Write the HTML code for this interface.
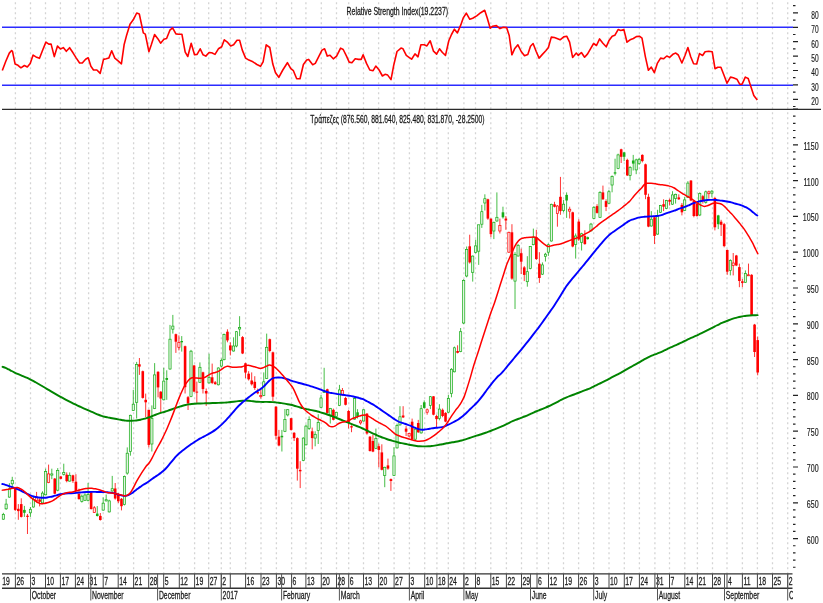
<!DOCTYPE html>
<html><head><meta charset="utf-8"><title>Chart</title>
<style>html,body{margin:0;padding:0;background:#fff;overflow:hidden}svg{display:block}</style>
</head><body>
<svg width="823" height="603" viewBox="0 0 823 603">
<defs><clipPath id="cl"><rect x="0" y="0" width="793" height="603"/></clipPath></defs>
<rect width="823" height="603" fill="#fff"/>
<path d="M15.4 0V573 M30.5 0V573 M45.5 0V573 M60.4 0V573 M75.4 0V573 M88.6 0V573 M103.2 0V573 M118.2 0V573 M133.6 0V573 M148.7 0V573 M163.7 0V573 M179.3 0V573 M194.6 0V573 M208.7 0V573 M221.3 0V573 M230.3 0V573 M245.6 0V573 M261 0V573 M276.4 0V573 M291.6 0V573 M305.9 0V573 M321.3 0V573 M336.5 0V573 M348.7 0V573 M363.5 0V573 M378.6 0V573 M394.1 0V573 M409.4 0V573 M424.7 0V573 M436.9 0V573 M448.3 0V573 M463.9 0V573 M475.5 0V573 M490.8 0V573 M506.4 0V573 M521.5 0V573 M537 0V573 M548.5 0V573 M563.5 0V573 M578.6 0V573 M593.7 0V573 M609 0V573 M624.3 0V573 M639.4 0V573 M654.9 0V573 M669.5 0V573 M684.8 0V573 M697.4 0V573 M712.5 0V573 M727 0V573 M742.4 0V573 M757.4 0V573 M772.5 0V573 M787.7 0V573" stroke="#d4d4d4" stroke-width="1.3" stroke-dasharray="2 3" stroke-dashoffset="-2.2" fill="none"/>
<path d="M2 27.2H793M2 85.2H793" stroke="#2b2bff" stroke-width="1.4" fill="none"/>
<polyline points="2.3,70.5 5.8,61.2 9.3,53.1 11.6,50.5 12.5,51.3 15.1,64.1 18,65.3 20.9,67.8 24.4,65.5 27.3,67 30.2,63.5 33.1,55.1 36,56.9 39.5,58.3 42.4,50.8 45.9,42.1 48.8,44.1 51.1,44.1 54.3,56.6 57.5,46.1 60.4,49 63.3,47.6 66.3,51.3 69.6,47.7 73,52.8 76.3,58.1 79.6,63 82.3,63 85.6,59.2 88.2,57.8 90.9,66.3 93.5,70 96.9,70 100.2,73.4 103.5,59.4 106.2,58.8 108.8,58.1 111.7,50.8 114.8,58.1 118.1,60.8 121.4,63.8 124.1,44.8 126.7,34.9 130,24.2 133.4,19.6 136.7,13 139.3,14 143.3,32.9 145.3,34.2 148.9,51.7 151.3,44.8 154.6,34.5 158,38.9 160.6,43.2 163.9,39.2 166.6,38.5 169.9,30.2 172.6,27.8 175.9,33.9 178.5,34.2 181.9,34.2 185.2,52.1 187.8,56.5 191.2,43.2 194.5,54.8 197.1,54.4 200.2,48.8 203.1,54.8 205.8,56.1 209.1,52.5 211.7,52.8 215,54.4 218.4,48.8 221.7,46.8 224.3,39.8 227.7,42.4 230.7,45.9 233.6,44.8 237,40.2 239.6,40.2 242.3,50.1 245.6,58.1 248.9,60.1 252.9,61.8 256.9,64.5 260.5,66.3 263.1,61.8 266.2,44.8 269.8,47.5 272.8,64.1 275.5,72.7 278.8,77.3 282.8,70 287.4,62.7 290.8,68.7 293.4,70.7 296.7,78.7 300,78.7 303.4,64.5 306.7,60.1 308.7,59.4 312.7,64.7 315.3,63.4 318.6,56.8 322,50.1 324.6,48.8 327.3,56.1 330,55.2 333.3,58.8 336.6,56.1 340.6,48.1 343.2,49.5 346.5,56.1 349.2,62.1 351.9,62.7 355.2,58.8 358.5,59.4 361.2,59.4 363.1,54.8 366.5,63.4 369.8,70 373.1,70.7 375.8,66.1 379.1,70 382.4,76 385,74.3 387.7,75.1 391,79.6 393.7,65.4 397,51.5 401,48.1 403,48.8 406.3,55.4 408.3,56.8 411.6,59.2 415,53.9 418,56.8 420.9,44.8 424.2,44.8 426.9,45.9 430.2,40.8 433.5,51.2 436.6,54.1 439.5,48.8 442.4,52.5 445.5,55.4 448.8,40.8 451.5,34.5 454.4,29.2 457.4,32.9 460.8,24.9 463.4,17.6 466.3,13.2 469.8,19.3 472.7,18.3 476.7,15.9 480.7,12.7 484.7,10.3 487.3,18.3 490.2,28.2 492.7,26.2 496.4,25.6 500,28.6 503.3,27.3 506.6,27.6 509.2,35.5 511.9,54.8 514.6,48.8 517.9,44.8 521.2,51.5 524.5,55.7 527.8,54.4 530.5,46.2 533.1,43.5 536.2,51.5 539.1,58.1 542.4,54.4 545.8,50.8 548.4,47.5 551.3,37.1 554.4,37.5 557,38.5 560.1,39.8 563.7,36.9 566.7,36.2 569.6,42.2 572.6,57.4 576.3,53.1 578.3,55.4 581.4,52.5 584.6,57.2 587.6,53.9 590.9,48.1 593.6,43.5 596.5,45.5 599.6,38.9 602.9,43.2 606.2,46.8 609.2,40.2 612.2,36.2 614.8,35.3 618.1,29.6 620.8,30.5 623.9,29.6 627,42.2 630.1,39.8 633.4,38.5 636.3,36.6 639.4,36.2 642,38.2 645.4,56.8 648.4,70.3 651.3,67.1 654.3,72.7 657.3,63.4 660.6,58.1 663.5,58.8 666.8,56 669.6,57.4 673.4,53.9 675.8,53.1 678.3,55 681.9,63 685.1,55.3 687.9,47.5 690.7,56.7 693.6,63.7 696.7,64 699.5,53.6 702.6,55.5 705.1,51.7 708.7,51.3 712.2,51.7 715,68.7 717.8,67.2 720.9,67.2 724.2,75.7 727,83.2 730.5,77.1 733.3,77.8 736.9,79.2 739.7,84.2 742.1,84.2 745.3,77.1 748.2,78.5 751,87 753.8,95.5 757.3,100.1" stroke="#ff0000" stroke-width="1.6" fill="none" stroke-linejoin="round"/>
<path d="M2 109.3H821" stroke="#2a2a2a" stroke-width="1.3" fill="none"/>
<path d="M15.22 487.3V511.1 M18.34 504.1V519.8 M21.25 498.3V517.5 M27.48 514V534 M36.57 491.9V502.4 M39.64 498.3V506.4 M48.58 464.6V483.2 M54.76 478V494.2 M60.79 475.9V479.4 M66.72 472.4V482.3 M72.95 474.7V482.9 M75.91 474.2V492.1 M78.98 488.7V499.7 M91.13 491.6V509.6 M94.3 506.1V513 M100.33 513V520.6 M115.2 483V499.6 M118.31 493V503 M121.48 498V510.4 M139.42 358V374.9 M142.78 370.6V398.6 M145.7 393.6V417.2 M148.81 409.8V447.4 M158.05 371.2V397.3 M160.77 391.1V412.2 M175.89 333.6V352.9 M178.91 335.4V350.4 M185.08 345.6V393.5 M188.05 396V410 M194.08 364.9V392.2 M196.84 381.6V402.8 M202.97 371.7V393.5 M206.19 388.5V405.9 M212.17 363.6V384.1 M215.18 381V384.8 M227.44 329.3V342.3 M230.35 342.3V355.4 M242.56 336.1V354.1 M245.47 362.8V378.2 M248.64 371.2V380.5 M251.7 372.4V385.5 M254.77 376.2V389.9 M257.73 388.6V394.2 M260.85 388.6V398.6 M269.79 338.6V352.3 M272.91 351.6V401 M275.97 406V439.6 M278.93 429.9V446.3 M291.14 417.9V430.6 M294.11 432.1V441 M297.32 437.3V480.6 M300.19 461.2V488.1 M312.19 427.6V449.3 M327.32 388.7V413.5 M333.4 408.6V420.4 M342.44 388V395.5 M345.55 396.7V405.4 M348.57 409.8V428.5 M351.53 425.3V432.2 M360.58 419.8V424.7 M366.96 413V434.7 M369.97 436V451.6 M372.93 434.8V452.2 M378.81 443.7V467.3 M381.83 444.3V470.4 M387.96 458.6V469.8 M390.92 478.5V490.9 M403.13 406.2V418 M406.09 426.1V436 M409.11 432.9V437.3 M412.12 418.6V439.8 M418.25 419.9V432.9 M427.15 408.5V414.7 M433.48 396.1V415.3 M436.54 414.7V427.8 M442.57 408.5V417.2 M445.53 412.2V422.2 M457.59 345.3V353.4 M469.7 234.7V263.6 M487.89 198.7V219.8 M490.9 218.6V237.2 M499.89 218.6V233.5 M505.87 216.1V229.8 M508.89 231.7V252.8 M511.95 224.2V279.8 M521.2 248.7V274 M524.26 266.1V281.1 M536.32 229.8V260 M539.38 252.2V282.9 M554.51 201.8V207.4 M557.42 205V226.7 M560.44 176.9V214.8 M569.68 206.7V218.5 M572.69 211.7V247.3 M578.77 219.2V240.9 M584.85 230.3V244.7 M597.06 204.2V213.6 M602.94 185.6V199.9 M606.05 199.3V211.1 M621.18 148.7V163 M627.3 158.7V176 M642.33 154.3V162.4 M645.54 163.6V199.2 M648.46 193.7V227.2 M654.54 216.7V244 M663.58 199.3V211.1 M669.61 198.6V205.5 M678.8 194.3V199.9 M681.92 203V215.4 M690.96 180V201.1 M693.87 199.9V217.3 M696.94 203V216.7 M702.87 194.9V203.6 M708.85 190.6V198.7 M714.88 196.8V230.4 M721.11 219.8V236 M724.17 222.9V247.3 M727.23 249.5V274.8 M733.21 253V275.4 M736.33 254.9V266.1 M739.39 263.6V287.2 M742.36 279V287.2 M748.49 263.6V276 M751.6 274.2V316 M754.57 323.9V357 M757.68 336.5V375.3" stroke="#ff0000" stroke-width="0.8" fill="none"/>
<path d="M3.36 512.8V519.8 M6.13 498.9V509.9 M9.39 483.2V497.7 M12.26 476.8V487.9 M24.41 505.9V516.9 M30.44 507V516.9 M33.46 497.1V507.6 M42.5 491.3V504.1 M45.62 468.7V495.4 M51.8 468.7V479.2 M57.72 468.1V491.3 M63.75 463.7V475.5 M69.68 472.4V481.7 M81.84 494.5V502.6 M84.96 493.3V500.9 M88.07 482.9V501.4 M97.26 506.1V516.5 M103.19 497.4V510.7 M106.16 494.5V501.4 M109.22 499.7V512.5 M112.24 475.9V491.6 M124.49 475.6V505.4 M127.26 447.4V474.7 M130.42 414.7V455.7 M133.29 389.9V411 M136.65 361.9V418.5 M151.87 405.4V451.5 M154.64 363.1V409.1 M163.78 367.8V400.4 M166.75 370.3V399.8 M170.01 324.9V369.7 M172.83 314.9V333.6 M181.72 336.1V351.6 M191.01 349.9V397.2 M199.91 362.4V382.9 M209.05 353.7V383.5 M218.34 367.3V385.4 M221.41 358.6V367.3 M224.02 333.6V360.3 M233.57 337.3V351.6 M236.48 331.1V347.3 M239.6 316.2V336.1 M263.76 372.4V396.1 M266.68 333.6V379 M281.9 429.9V451.5 M284.91 409V432.1 M287.73 409V416.4 M303.35 437.3V461.2 M305.97 424.6V445.5 M309.13 416.4V429.9 M315.16 431.3V446.3 M318.22 414.2V444 M321.04 394.9V407.9 M324.15 367.8V393 M330.28 407.9V423.5 M336.31 411.7V417.3 M339.48 384.9V406.1 M354.6 398V419.8 M357.56 409.2V418.5 M363.64 409.2V421.6 M375.9 428.6V449.1 M384.74 466.7V487.2 M393.99 447.2V476 M397.05 423.6V448.5 M399.97 406.2V425.5 M415.24 428V439.8 M421.17 405V433.6 M424.23 400.4V408.5 M430.41 396.1V409.1 M439.4 404.2V420.3 M448.4 394.8V412.9 M451.46 368.1V397.3 M454.43 346.6V372.4 M460.61 328V352.2 M463.67 279.2V324.2 M466.64 246.5V277.3 M472.71 255.5V281.6 M475.68 239.7V253.4 M478.69 224.8V264.9 M481.81 204.9V227.9 M484.87 194.3V210.5 M493.87 221.7V239.1 M496.88 192.4V221.7 M502.96 206.7V218.6 M515.02 252.2V309 M518.08 244.1V256.5 M527.33 256.2V286.7 M530.29 246V269.3 M533.35 228.6V245.3 M542.45 262.4V274.9 M545.46 252.8V261.5 M548.38 243.5V255.9 M551.39 203.7V241.6 M563.55 199.9V212.3 M566.61 192.4V217.9 M575.66 233.5V258.6 M581.59 232.8V250.5 M587.72 236.6V239.7 M590.98 222.9V231.6 M593.9 206.1V219.2 M600.02 191.2V217.9 M608.92 189.9V204.2 M612.08 175.4V192.3 M615.05 158.7V175.4 M618.11 153.7V169.2 M624.14 151.8V161.1 M630.07 166.1V180.4 M633.23 154.9V170.5 M636.2 158.7V174.2 M639.11 158V164.9 M651.32 211.1V226.6 M657.55 209.8V234.7 M660.51 204.9V212.9 M666.54 199.9V209.2 M672.52 191.2V204.9 M675.59 193.7V203.6 M684.68 196.8V211.1 M687.9 181.2V198 M699.75 192.4V216.1 M705.78 190.6V203.6 M711.91 190V197.4 M718.24 214.8V229.1 M730.35 259.3V275.4 M745.42 270.4V282.9" stroke="#16ac16" stroke-width="0.8" fill="none"/>
<rect x="2.26" y="514.5" width="2.2" height="4.7" fill="#e2f4e2" stroke="#16ac16" stroke-width="0.7"/>
<rect x="5.03" y="504.1" width="2.2" height="4.7" fill="#e2f4e2" stroke="#16ac16" stroke-width="0.7"/>
<rect x="8.29" y="489" width="2.2" height="8.1" fill="#e2f4e2" stroke="#16ac16" stroke-width="0.7"/>
<rect x="11.16" y="480.3" width="2.2" height="3.5" fill="#e2f4e2" stroke="#16ac16" stroke-width="0.7"/>
<rect x="13.92" y="487.9" width="2.6" height="22" fill="#ff0000"/>
<rect x="17.04" y="508.8" width="2.6" height="2.3" fill="#ff0000"/>
<rect x="19.95" y="504.1" width="2.6" height="12.8" fill="#ff0000"/>
<rect x="23.11" y="509.9" width="2.6" height="2.9" fill="#16ac16"/>
<rect x="26.18" y="515.7" width="2.6" height="1.2" fill="#ff0000"/>
<rect x="29.34" y="509.3" width="2.2" height="3.5" fill="#e2f4e2" stroke="#16ac16" stroke-width="0.7"/>
<rect x="32.36" y="499.5" width="2.2" height="7.5" fill="#e2f4e2" stroke="#16ac16" stroke-width="0.7"/>
<rect x="35.47" y="497.1" width="2.2" height="3.5" fill="#ffe2e2" stroke="#ff0000" stroke-width="0.7"/>
<rect x="38.34" y="499.5" width="2.6" height="2.3" fill="#ff0000"/>
<rect x="41.4" y="493.1" width="2.2" height="9.8" fill="#e2f4e2" stroke="#16ac16" stroke-width="0.7"/>
<rect x="44.52" y="471.6" width="2.2" height="23.2" fill="#e2f4e2" stroke="#16ac16" stroke-width="0.7"/>
<rect x="47.48" y="473.9" width="2.2" height="8.7" fill="#ffe2e2" stroke="#ff0000" stroke-width="0.7"/>
<rect x="50.7" y="473.9" width="2.2" height="1.2" fill="#e2f4e2" stroke="#16ac16" stroke-width="0.7"/>
<rect x="53.46" y="478.6" width="2.6" height="15.1" fill="#ff0000"/>
<rect x="56.62" y="470.4" width="2.2" height="19.8" fill="#e2f4e2" stroke="#16ac16" stroke-width="0.7"/>
<rect x="59.49" y="476.5" width="2.6" height="2.3" fill="#ff0000"/>
<rect x="62.65" y="472.5" width="2.2" height="2" fill="#e2f4e2" stroke="#16ac16" stroke-width="0.7"/>
<rect x="65.42" y="474.7" width="2.6" height="6.4" fill="#ff0000"/>
<rect x="68.58" y="475.3" width="2.2" height="5.8" fill="#e2f4e2" stroke="#16ac16" stroke-width="0.7"/>
<rect x="71.65" y="475.3" width="2.6" height="5.8" fill="#ff0000"/>
<rect x="74.61" y="481.7" width="2.6" height="9.3" fill="#ff0000"/>
<rect x="77.68" y="493.9" width="2.6" height="5.2" fill="#ff0000"/>
<rect x="80.74" y="496.2" width="2.2" height="5.2" fill="#e2f4e2" stroke="#16ac16" stroke-width="0.7"/>
<rect x="83.86" y="495" width="2.2" height="5.3" fill="#e2f4e2" stroke="#16ac16" stroke-width="0.7"/>
<rect x="86.97" y="494.5" width="2.2" height="5.8" fill="#e2f4e2" stroke="#16ac16" stroke-width="0.7"/>
<rect x="89.83" y="492.1" width="2.6" height="16.9" fill="#ff0000"/>
<rect x="93.2" y="507.8" width="2.2" height="4.7" fill="#ffe2e2" stroke="#ff0000" stroke-width="0.7"/>
<rect x="95.96" y="513.6" width="2.6" height="2.4" fill="#16ac16"/>
<rect x="99.03" y="515.9" width="2.6" height="4.1" fill="#ff0000"/>
<rect x="102.09" y="503.2" width="2.2" height="6.9" fill="#e2f4e2" stroke="#16ac16" stroke-width="0.7"/>
<rect x="105.06" y="499.7" width="2.2" height="1.2" fill="#e2f4e2" stroke="#16ac16" stroke-width="0.7"/>
<rect x="108.12" y="500.9" width="2.2" height="11" fill="#e2f4e2" stroke="#16ac16" stroke-width="0.7"/>
<rect x="111.14" y="488.7" width="2.2" height="2.3" fill="#e2f4e2" stroke="#16ac16" stroke-width="0.7"/>
<rect x="113.9" y="488.5" width="2.6" height="10" fill="#ff0000"/>
<rect x="117.01" y="494.6" width="2.6" height="6.7" fill="#ff0000"/>
<rect x="120.18" y="498.8" width="2.6" height="7.4" fill="#ff0000"/>
<rect x="123.39" y="476.4" width="2.2" height="28.2" fill="#e2f4e2" stroke="#16ac16" stroke-width="0.7"/>
<rect x="126.16" y="453.2" width="2.2" height="19.9" fill="#e2f4e2" stroke="#16ac16" stroke-width="0.7"/>
<rect x="129.32" y="415.3" width="2.2" height="36.2" fill="#e2f4e2" stroke="#16ac16" stroke-width="0.7"/>
<rect x="132.19" y="404.2" width="2.2" height="6.2" fill="#e2f4e2" stroke="#16ac16" stroke-width="0.7"/>
<rect x="135.55" y="364.4" width="2.2" height="37.9" fill="#e2f4e2" stroke="#16ac16" stroke-width="0.7"/>
<rect x="138.12" y="364.3" width="2.6" height="2.3" fill="#ff0000"/>
<rect x="141.48" y="371.2" width="2.6" height="26.7" fill="#ff0000"/>
<rect x="144.4" y="399.8" width="2.6" height="2.5" fill="#ff0000"/>
<rect x="147.51" y="409.8" width="2.6" height="35.1" fill="#ff0000"/>
<rect x="150.77" y="418.5" width="2.2" height="25.5" fill="#e2f4e2" stroke="#16ac16" stroke-width="0.7"/>
<rect x="153.54" y="374.9" width="2.2" height="33.6" fill="#e2f4e2" stroke="#16ac16" stroke-width="0.7"/>
<rect x="156.75" y="371.8" width="2.6" height="15.6" fill="#ff0000"/>
<rect x="159.47" y="391.7" width="2.6" height="6.9" fill="#ff0000"/>
<rect x="162.68" y="381.1" width="2.2" height="18.7" fill="#e2f4e2" stroke="#16ac16" stroke-width="0.7"/>
<rect x="165.45" y="378" width="2.6" height="1.9" fill="#16ac16"/>
<rect x="168.91" y="339.2" width="2.2" height="29.8" fill="#e2f4e2" stroke="#16ac16" stroke-width="0.7"/>
<rect x="171.73" y="326.1" width="2.2" height="3.1" fill="#e2f4e2" stroke="#16ac16" stroke-width="0.7"/>
<rect x="174.59" y="334.2" width="2.6" height="7.5" fill="#ff0000"/>
<rect x="177.81" y="342.3" width="2.2" height="5" fill="#ffe2e2" stroke="#ff0000" stroke-width="0.7"/>
<rect x="180.42" y="341" width="2.6" height="1.3" fill="#16ac16"/>
<rect x="183.78" y="346.2" width="2.6" height="41" fill="#ff0000"/>
<rect x="186.75" y="397.2" width="2.6" height="6.2" fill="#ff0000"/>
<rect x="189.91" y="351.2" width="2.2" height="45.4" fill="#e2f4e2" stroke="#16ac16" stroke-width="0.7"/>
<rect x="192.78" y="365.5" width="2.6" height="26.1" fill="#ff0000"/>
<rect x="195.54" y="391.6" width="2.6" height="1" fill="#ff0000"/>
<rect x="198.81" y="367.3" width="2.2" height="15" fill="#e2f4e2" stroke="#16ac16" stroke-width="0.7"/>
<rect x="201.67" y="372.3" width="2.6" height="16.8" fill="#ff0000"/>
<rect x="204.89" y="391" width="2.6" height="2.5" fill="#ff0000"/>
<rect x="207.95" y="377.3" width="2.2" height="5.6" fill="#e2f4e2" stroke="#16ac16" stroke-width="0.7"/>
<rect x="210.87" y="377.3" width="2.6" height="5.6" fill="#ff0000"/>
<rect x="213.88" y="382.3" width="2.6" height="1.8" fill="#ff0000"/>
<rect x="217.24" y="368" width="2.2" height="16.8" fill="#e2f4e2" stroke="#16ac16" stroke-width="0.7"/>
<rect x="220.31" y="360.5" width="2.2" height="5.6" fill="#e2f4e2" stroke="#16ac16" stroke-width="0.7"/>
<rect x="222.92" y="334.6" width="2.2" height="25.1" fill="#e2f4e2" stroke="#16ac16" stroke-width="0.7"/>
<rect x="226.14" y="331.7" width="2.6" height="8.7" fill="#ff0000"/>
<rect x="229.05" y="345.4" width="2.6" height="5" fill="#ff0000"/>
<rect x="232.47" y="346" width="2.2" height="5" fill="#e2f4e2" stroke="#16ac16" stroke-width="0.7"/>
<rect x="235.38" y="331.7" width="2.2" height="14.3" fill="#e2f4e2" stroke="#16ac16" stroke-width="0.7"/>
<rect x="238.5" y="327.5" width="2.2" height="1.5" fill="#e2f4e2" stroke="#16ac16" stroke-width="0.7"/>
<rect x="241.26" y="337.1" width="2.6" height="16.4" fill="#ff0000"/>
<rect x="244.17" y="363.3" width="2.6" height="9.3" fill="#ff0000"/>
<rect x="247.34" y="373.7" width="2.6" height="5.6" fill="#ff0000"/>
<rect x="250.4" y="380.5" width="2.6" height="3.8" fill="#ff0000"/>
<rect x="253.47" y="381.8" width="2.6" height="6.2" fill="#ff0000"/>
<rect x="256.43" y="392.1" width="2.6" height="1.2" fill="#ff0000"/>
<rect x="259.75" y="395.4" width="2.2" height="1.3" fill="#ffe2e2" stroke="#ff0000" stroke-width="0.7"/>
<rect x="262.66" y="381.8" width="2.2" height="13.6" fill="#e2f4e2" stroke="#16ac16" stroke-width="0.7"/>
<rect x="265.58" y="347.3" width="2.2" height="31.1" fill="#e2f4e2" stroke="#16ac16" stroke-width="0.7"/>
<rect x="268.49" y="339.2" width="2.6" height="11.8" fill="#ff0000"/>
<rect x="271.61" y="352.3" width="2.6" height="44.4" fill="#ff0000"/>
<rect x="274.67" y="406.7" width="2.6" height="29.1" fill="#ff0000"/>
<rect x="277.63" y="436.6" width="2.6" height="8.9" fill="#ff0000"/>
<rect x="280.6" y="435.8" width="2.6" height="1.5" fill="#16ac16"/>
<rect x="283.81" y="419.4" width="2.2" height="11.9" fill="#e2f4e2" stroke="#16ac16" stroke-width="0.7"/>
<rect x="286.63" y="409.7" width="2.2" height="5.2" fill="#e2f4e2" stroke="#16ac16" stroke-width="0.7"/>
<rect x="289.84" y="418.2" width="2.6" height="11.7" fill="#ff0000"/>
<rect x="292.81" y="432.8" width="2.6" height="5.3" fill="#ff0000"/>
<rect x="296.02" y="438.1" width="2.6" height="30.6" fill="#ff0000"/>
<rect x="298.89" y="469.9" width="2.6" height="1.4" fill="#ff0000"/>
<rect x="302.25" y="438.1" width="2.2" height="22.3" fill="#e2f4e2" stroke="#16ac16" stroke-width="0.7"/>
<rect x="304.87" y="426.1" width="2.2" height="18.7" fill="#e2f4e2" stroke="#16ac16" stroke-width="0.7"/>
<rect x="308.03" y="419.4" width="2.2" height="9" fill="#e2f4e2" stroke="#16ac16" stroke-width="0.7"/>
<rect x="310.89" y="431.3" width="2.6" height="6.8" fill="#ff0000"/>
<rect x="314.06" y="434.3" width="2.2" height="3.8" fill="#e2f4e2" stroke="#16ac16" stroke-width="0.7"/>
<rect x="317.12" y="422.4" width="2.2" height="8.2" fill="#e2f4e2" stroke="#16ac16" stroke-width="0.7"/>
<rect x="319.94" y="398" width="2.2" height="9.3" fill="#e2f4e2" stroke="#16ac16" stroke-width="0.7"/>
<rect x="323.05" y="391.1" width="2.2" height="1.3" fill="#e2f4e2" stroke="#16ac16" stroke-width="0.7"/>
<rect x="326.02" y="389.3" width="2.6" height="23.6" fill="#ff0000"/>
<rect x="329.18" y="408.6" width="2.2" height="6.8" fill="#e2f4e2" stroke="#16ac16" stroke-width="0.7"/>
<rect x="332.1" y="409.8" width="2.6" height="10" fill="#ff0000"/>
<rect x="335.21" y="412.3" width="2.2" height="4.3" fill="#e2f4e2" stroke="#16ac16" stroke-width="0.7"/>
<rect x="338.38" y="389.9" width="2.2" height="15.5" fill="#e2f4e2" stroke="#16ac16" stroke-width="0.7"/>
<rect x="341.34" y="390.5" width="2.2" height="4.4" fill="#ffe2e2" stroke="#ff0000" stroke-width="0.7"/>
<rect x="344.25" y="398" width="2.6" height="6.8" fill="#ff0000"/>
<rect x="347.27" y="411" width="2.6" height="11.2" fill="#ff0000"/>
<rect x="350.23" y="426.2" width="2.6" height="1.3" fill="#ff0000"/>
<rect x="353.5" y="398.6" width="2.2" height="20.5" fill="#e2f4e2" stroke="#16ac16" stroke-width="0.7"/>
<rect x="356.26" y="412.3" width="2.6" height="4.3" fill="#16ac16"/>
<rect x="359.48" y="421" width="2.2" height="1.9" fill="#ffe2e2" stroke="#ff0000" stroke-width="0.7"/>
<rect x="362.54" y="409.8" width="2.2" height="11.2" fill="#e2f4e2" stroke="#16ac16" stroke-width="0.7"/>
<rect x="365.66" y="413.7" width="2.6" height="19.8" fill="#ff0000"/>
<rect x="368.67" y="436.7" width="2.6" height="14.3" fill="#ff0000"/>
<rect x="371.63" y="441" width="2.6" height="10.6" fill="#ff0000"/>
<rect x="374.8" y="438.5" width="2.2" height="10" fill="#e2f4e2" stroke="#16ac16" stroke-width="0.7"/>
<rect x="377.51" y="446.2" width="2.6" height="3.7" fill="#ff0000"/>
<rect x="380.53" y="452.4" width="2.6" height="17.4" fill="#ff0000"/>
<rect x="383.64" y="467.3" width="2.2" height="8.1" fill="#e2f4e2" stroke="#16ac16" stroke-width="0.7"/>
<rect x="386.66" y="465.4" width="2.6" height="3.2" fill="#ff0000"/>
<rect x="389.62" y="479.1" width="2.6" height="1.9" fill="#ff0000"/>
<rect x="392.89" y="455.9" width="2.2" height="19.5" fill="#e2f4e2" stroke="#16ac16" stroke-width="0.7"/>
<rect x="395.95" y="425.5" width="2.2" height="22.4" fill="#e2f4e2" stroke="#16ac16" stroke-width="0.7"/>
<rect x="398.87" y="416.8" width="2.2" height="8.1" fill="#e2f4e2" stroke="#16ac16" stroke-width="0.7"/>
<rect x="401.83" y="415.5" width="2.6" height="1.9" fill="#ff0000"/>
<rect x="404.79" y="428.6" width="2.6" height="3.1" fill="#ff0000"/>
<rect x="408.01" y="433.6" width="2.2" height="2.4" fill="#ffe2e2" stroke="#ff0000" stroke-width="0.7"/>
<rect x="410.82" y="421.7" width="2.6" height="17.5" fill="#ff0000"/>
<rect x="414.14" y="429.2" width="2.2" height="10" fill="#e2f4e2" stroke="#16ac16" stroke-width="0.7"/>
<rect x="416.95" y="423" width="2.6" height="9.3" fill="#ff0000"/>
<rect x="420.07" y="408.7" width="2.2" height="24.2" fill="#e2f4e2" stroke="#16ac16" stroke-width="0.7"/>
<rect x="422.93" y="402.3" width="2.6" height="5.6" fill="#16ac16"/>
<rect x="426.05" y="409.8" width="2.2" height="2.4" fill="#ffe2e2" stroke="#ff0000" stroke-width="0.7"/>
<rect x="429.31" y="396.7" width="2.2" height="8.7" fill="#e2f4e2" stroke="#16ac16" stroke-width="0.7"/>
<rect x="432.18" y="396.3" width="2.6" height="18.4" fill="#ff0000"/>
<rect x="435.24" y="416" width="2.6" height="3.1" fill="#ff0000"/>
<rect x="438.3" y="409.1" width="2.2" height="9.4" fill="#e2f4e2" stroke="#16ac16" stroke-width="0.7"/>
<rect x="441.27" y="409.8" width="2.6" height="6.2" fill="#ff0000"/>
<rect x="444.23" y="412.9" width="2.6" height="8.7" fill="#ff0000"/>
<rect x="447.3" y="398.6" width="2.2" height="13.6" fill="#e2f4e2" stroke="#16ac16" stroke-width="0.7"/>
<rect x="450.36" y="369.3" width="2.2" height="24.3" fill="#e2f4e2" stroke="#16ac16" stroke-width="0.7"/>
<rect x="453.33" y="347.8" width="2.2" height="24" fill="#e2f4e2" stroke="#16ac16" stroke-width="0.7"/>
<rect x="456.29" y="351" width="2.6" height="1.8" fill="#ff0000"/>
<rect x="459.51" y="331.7" width="2.2" height="19.9" fill="#e2f4e2" stroke="#16ac16" stroke-width="0.7"/>
<rect x="462.57" y="280.4" width="2.2" height="42.6" fill="#e2f4e2" stroke="#16ac16" stroke-width="0.7"/>
<rect x="465.54" y="249.5" width="2.2" height="26.5" fill="#e2f4e2" stroke="#16ac16" stroke-width="0.7"/>
<rect x="468.4" y="246.3" width="2.6" height="16.1" fill="#ff0000"/>
<rect x="471.61" y="256.1" width="2.2" height="16.2" fill="#e2f4e2" stroke="#16ac16" stroke-width="0.7"/>
<rect x="474.58" y="245.9" width="2.2" height="6.4" fill="#e2f4e2" stroke="#16ac16" stroke-width="0.7"/>
<rect x="477.59" y="224.8" width="2.2" height="26.4" fill="#e2f4e2" stroke="#16ac16" stroke-width="0.7"/>
<rect x="480.71" y="211.7" width="2.2" height="12.5" fill="#e2f4e2" stroke="#16ac16" stroke-width="0.7"/>
<rect x="483.77" y="198.7" width="2.2" height="4.3" fill="#e2f4e2" stroke="#16ac16" stroke-width="0.7"/>
<rect x="486.59" y="199.3" width="2.6" height="19.3" fill="#ff0000"/>
<rect x="489.6" y="218.6" width="2.6" height="15.5" fill="#ff0000"/>
<rect x="492.77" y="222.3" width="2.2" height="8.7" fill="#e2f4e2" stroke="#16ac16" stroke-width="0.7"/>
<rect x="495.78" y="217.3" width="2.2" height="3.7" fill="#e2f4e2" stroke="#16ac16" stroke-width="0.7"/>
<rect x="498.79" y="225.4" width="2.2" height="5.6" fill="#ffe2e2" stroke="#ff0000" stroke-width="0.7"/>
<rect x="501.66" y="212.3" width="2.6" height="5" fill="#16ac16"/>
<rect x="504.57" y="218.6" width="2.6" height="1.9" fill="#ff0000"/>
<rect x="507.79" y="232.3" width="2.2" height="19.9" fill="#ffe2e2" stroke="#ff0000" stroke-width="0.7"/>
<rect x="510.65" y="232.3" width="2.6" height="46.3" fill="#ff0000"/>
<rect x="513.92" y="254.5" width="2.2" height="26.6" fill="#e2f4e2" stroke="#16ac16" stroke-width="0.7"/>
<rect x="516.98" y="245.3" width="2.2" height="10.7" fill="#e2f4e2" stroke="#16ac16" stroke-width="0.7"/>
<rect x="519.9" y="253.2" width="2.6" height="8.5" fill="#ff0000"/>
<rect x="522.96" y="267.4" width="2.6" height="7.5" fill="#ff0000"/>
<rect x="526.23" y="271.7" width="2.2" height="10" fill="#e2f4e2" stroke="#16ac16" stroke-width="0.7"/>
<rect x="529.19" y="246.4" width="2.2" height="22.2" fill="#e2f4e2" stroke="#16ac16" stroke-width="0.7"/>
<rect x="532.25" y="237.3" width="2.2" height="7.4" fill="#e2f4e2" stroke="#16ac16" stroke-width="0.7"/>
<rect x="535.02" y="237.3" width="2.6" height="21.7" fill="#ff0000"/>
<rect x="538.08" y="263.7" width="2.6" height="14.3" fill="#ff0000"/>
<rect x="541.35" y="264.9" width="2.2" height="9.3" fill="#e2f4e2" stroke="#16ac16" stroke-width="0.7"/>
<rect x="544.36" y="254.2" width="2.2" height="2.1" fill="#e2f4e2" stroke="#16ac16" stroke-width="0.7"/>
<rect x="547.28" y="244.7" width="2.2" height="7.5" fill="#e2f4e2" stroke="#16ac16" stroke-width="0.7"/>
<rect x="550.29" y="204.3" width="2.2" height="36.7" fill="#e2f4e2" stroke="#16ac16" stroke-width="0.7"/>
<rect x="553.21" y="204.3" width="2.6" height="2.5" fill="#ff0000"/>
<rect x="556.32" y="206" width="2.2" height="7.6" fill="#ffe2e2" stroke="#ff0000" stroke-width="0.7"/>
<rect x="559.14" y="196.8" width="2.6" height="14.3" fill="#ff0000"/>
<rect x="562.45" y="204.2" width="2.2" height="6.2" fill="#e2f4e2" stroke="#16ac16" stroke-width="0.7"/>
<rect x="565.31" y="194.9" width="2.6" height="5.6" fill="#16ac16"/>
<rect x="568.58" y="209.2" width="2.2" height="1.9" fill="#ffe2e2" stroke="#ff0000" stroke-width="0.7"/>
<rect x="571.39" y="212.3" width="2.6" height="34.2" fill="#ff0000"/>
<rect x="574.56" y="236" width="2.2" height="8.5" fill="#e2f4e2" stroke="#16ac16" stroke-width="0.7"/>
<rect x="577.47" y="221.6" width="2.6" height="17.9" fill="#ff0000"/>
<rect x="580.49" y="233.8" width="2.2" height="8.5" fill="#e2f4e2" stroke="#16ac16" stroke-width="0.7"/>
<rect x="583.55" y="235.9" width="2.6" height="8.2" fill="#ff0000"/>
<rect x="586.42" y="237.2" width="2.6" height="1.9" fill="#16ac16"/>
<rect x="589.88" y="224.1" width="2.2" height="6.7" fill="#e2f4e2" stroke="#16ac16" stroke-width="0.7"/>
<rect x="592.8" y="207.3" width="2.2" height="11.2" fill="#e2f4e2" stroke="#16ac16" stroke-width="0.7"/>
<rect x="595.76" y="206.1" width="2.6" height="6.8" fill="#ff0000"/>
<rect x="598.92" y="192.4" width="2.2" height="24.9" fill="#e2f4e2" stroke="#16ac16" stroke-width="0.7"/>
<rect x="601.64" y="192.4" width="2.6" height="6.9" fill="#ff0000"/>
<rect x="604.75" y="201.1" width="2.6" height="5.8" fill="#ff0000"/>
<rect x="607.82" y="191.7" width="2.2" height="11.5" fill="#e2f4e2" stroke="#16ac16" stroke-width="0.7"/>
<rect x="610.98" y="176.5" width="2.2" height="8.5" fill="#e2f4e2" stroke="#16ac16" stroke-width="0.7"/>
<rect x="613.75" y="172.3" width="2.6" height="1.3" fill="#16ac16"/>
<rect x="617.01" y="154.9" width="2.2" height="13.7" fill="#e2f4e2" stroke="#16ac16" stroke-width="0.7"/>
<rect x="619.88" y="149.3" width="2.6" height="7.5" fill="#ff0000"/>
<rect x="622.84" y="152.4" width="2.6" height="4.4" fill="#16ac16"/>
<rect x="626" y="159.9" width="2.6" height="15.5" fill="#ff0000"/>
<rect x="628.97" y="167.4" width="2.2" height="8" fill="#e2f4e2" stroke="#16ac16" stroke-width="0.7"/>
<rect x="631.93" y="160.5" width="2.6" height="3.1" fill="#16ac16"/>
<rect x="635.1" y="159.9" width="2.2" height="10" fill="#e2f4e2" stroke="#16ac16" stroke-width="0.7"/>
<rect x="638.01" y="159.3" width="2.2" height="4.3" fill="#e2f4e2" stroke="#16ac16" stroke-width="0.7"/>
<rect x="641.03" y="154.9" width="2.6" height="6.2" fill="#ff0000"/>
<rect x="644.24" y="164.3" width="2.6" height="30.5" fill="#ff0000"/>
<rect x="647.16" y="196.8" width="2.6" height="29.8" fill="#ff0000"/>
<rect x="650.22" y="219.2" width="2.2" height="6.8" fill="#e2f4e2" stroke="#16ac16" stroke-width="0.7"/>
<rect x="653.24" y="217.3" width="2.6" height="18.6" fill="#ff0000"/>
<rect x="656.45" y="215.4" width="2.2" height="18.7" fill="#e2f4e2" stroke="#16ac16" stroke-width="0.7"/>
<rect x="659.41" y="205.5" width="2.2" height="6.8" fill="#e2f4e2" stroke="#16ac16" stroke-width="0.7"/>
<rect x="662.28" y="204.2" width="2.6" height="2.5" fill="#ff0000"/>
<rect x="665.44" y="200.5" width="2.2" height="8.1" fill="#e2f4e2" stroke="#16ac16" stroke-width="0.7"/>
<rect x="668.31" y="199.9" width="2.6" height="1.8" fill="#ff0000"/>
<rect x="671.42" y="194.9" width="2.2" height="9.3" fill="#e2f4e2" stroke="#16ac16" stroke-width="0.7"/>
<rect x="674.49" y="194.3" width="2.2" height="4.3" fill="#e2f4e2" stroke="#16ac16" stroke-width="0.7"/>
<rect x="677.5" y="197.4" width="2.6" height="1.9" fill="#ff0000"/>
<rect x="680.62" y="204.9" width="2.6" height="7.4" fill="#ff0000"/>
<rect x="683.58" y="199.9" width="2.2" height="10.5" fill="#e2f4e2" stroke="#16ac16" stroke-width="0.7"/>
<rect x="686.8" y="183.1" width="2.2" height="14.3" fill="#e2f4e2" stroke="#16ac16" stroke-width="0.7"/>
<rect x="689.66" y="180.6" width="2.6" height="19.9" fill="#ff0000"/>
<rect x="692.57" y="201.1" width="2.6" height="14.9" fill="#ff0000"/>
<rect x="695.64" y="203.6" width="2.6" height="12.4" fill="#ff0000"/>
<rect x="698.65" y="193.5" width="2.2" height="21.5" fill="#e2f4e2" stroke="#16ac16" stroke-width="0.7"/>
<rect x="701.57" y="196.2" width="2.6" height="3.7" fill="#ff0000"/>
<rect x="704.68" y="191.8" width="2.2" height="10.6" fill="#e2f4e2" stroke="#16ac16" stroke-width="0.7"/>
<rect x="707.75" y="191.8" width="2.2" height="1.9" fill="#ffe2e2" stroke="#ff0000" stroke-width="0.7"/>
<rect x="710.81" y="191.2" width="2.2" height="1.9" fill="#e2f4e2" stroke="#16ac16" stroke-width="0.7"/>
<rect x="713.58" y="198" width="2.6" height="29.3" fill="#ff0000"/>
<rect x="716.94" y="215.4" width="2.6" height="8.8" fill="#16ac16"/>
<rect x="719.81" y="221.7" width="2.6" height="3.1" fill="#ff0000"/>
<rect x="722.87" y="224.2" width="2.6" height="21.9" fill="#ff0000"/>
<rect x="725.93" y="250" width="2.6" height="21.7" fill="#ff0000"/>
<rect x="729.25" y="260.5" width="2.2" height="9.9" fill="#e2f4e2" stroke="#16ac16" stroke-width="0.7"/>
<rect x="732.11" y="263" width="2.2" height="2.5" fill="#ffe2e2" stroke="#ff0000" stroke-width="0.7"/>
<rect x="735.03" y="255.5" width="2.6" height="10" fill="#ff0000"/>
<rect x="738.09" y="267.1" width="2.6" height="13.9" fill="#ff0000"/>
<rect x="741.06" y="281.3" width="2.6" height="1.6" fill="#ff0000"/>
<rect x="744.32" y="273.6" width="2.2" height="8.7" fill="#e2f4e2" stroke="#16ac16" stroke-width="0.7"/>
<rect x="747.39" y="274.8" width="2.2" height="1" fill="#ffe2e2" stroke="#ff0000" stroke-width="0.7"/>
<rect x="750.3" y="274.8" width="2.6" height="40.6" fill="#ff0000"/>
<rect x="753.27" y="324.6" width="2.6" height="27.4" fill="#ff0000"/>
<rect x="756.38" y="340.1" width="2.6" height="32.4" fill="#ff0000"/>
<path d="M2.6 366.84C3.1 367.02 4.6 367.51 5.6 367.94C6.6 368.37 7.6 368.91 8.6 369.42C9.6 369.93 10.6 370.48 11.6 371C12.6 371.52 13.6 372.03 14.6 372.52C15.6 373 16.6 373.46 17.6 373.9C18.6 374.34 19.6 374.76 20.6 375.18C21.6 375.6 22.6 376 23.6 376.42C24.6 376.84 25.6 377.24 26.6 377.68C27.6 378.11 28.6 378.54 29.6 379.02C30.6 379.5 31.6 380.02 32.6 380.56C33.6 381.09 34.6 381.68 35.6 382.25C36.6 382.83 37.6 383.42 38.6 384.01C39.6 384.59 40.6 385.18 41.6 385.77C42.6 386.36 43.6 386.95 44.6 387.53C45.6 388.12 46.6 388.71 47.6 389.3C48.6 389.88 49.6 390.47 50.6 391.05C51.6 391.64 52.6 392.23 53.6 392.81C54.6 393.4 55.6 393.99 56.6 394.56C57.6 395.14 58.6 395.72 59.6 396.28C60.6 396.84 61.6 397.39 62.6 397.94C63.6 398.48 64.6 399.01 65.6 399.54C66.6 400.07 67.6 400.6 68.6 401.13C69.6 401.65 70.6 402.18 71.6 402.69C72.6 403.2 73.6 403.71 74.6 404.2C75.6 404.69 76.6 405.15 77.6 405.61C78.6 406.07 79.6 406.51 80.6 406.96C81.6 407.4 82.6 407.84 83.6 408.28C84.6 408.72 85.6 409.16 86.6 409.6C87.6 410.04 88.6 410.48 89.6 410.92C90.6 411.35 91.6 411.79 92.6 412.22C93.6 412.66 94.6 413.09 95.6 413.52C96.6 413.95 97.6 414.38 98.6 414.78C99.6 415.17 100.6 415.56 101.6 415.88C102.6 416.21 103.6 416.47 104.6 416.72C105.6 416.97 106.6 417.16 107.6 417.36C108.6 417.57 109.6 417.75 110.6 417.94C111.6 418.14 112.6 418.33 113.6 418.51C114.6 418.7 115.6 418.89 116.6 419.08C117.6 419.26 118.6 419.45 119.6 419.63C120.6 419.81 121.6 420 122.6 420.17C123.6 420.33 124.6 420.51 125.6 420.62C126.6 420.73 127.6 420.81 128.6 420.84C129.6 420.87 130.6 420.84 131.6 420.8C132.6 420.76 133.6 420.69 134.6 420.61C135.6 420.53 136.6 420.44 137.6 420.3C138.6 420.16 139.6 419.97 140.6 419.74C141.6 419.52 142.6 419.21 143.6 418.93C144.6 418.65 145.6 418.36 146.6 418.06C147.6 417.76 148.6 417.49 149.6 417.15C150.6 416.81 151.6 416.42 152.6 416.02C153.6 415.62 154.6 415.16 155.6 414.77C156.6 414.37 157.6 413.99 158.6 413.64C159.6 413.29 160.6 412.98 161.6 412.67C162.6 412.36 163.6 412.07 164.6 411.77C165.6 411.46 166.6 411.16 167.6 410.83C168.6 410.5 169.6 410.15 170.6 409.79C171.6 409.43 172.6 409.04 173.6 408.68C174.6 408.32 175.6 407.97 176.6 407.63C177.6 407.3 178.6 406.98 179.6 406.68C180.6 406.37 181.6 406.07 182.6 405.79C183.6 405.51 184.6 405.23 185.6 404.99C186.6 404.75 187.6 404.55 188.6 404.38C189.6 404.21 190.6 404.08 191.6 403.97C192.6 403.86 193.6 403.79 194.6 403.73C195.6 403.66 196.6 403.62 197.6 403.58C198.6 403.54 199.6 403.51 200.6 403.47C201.6 403.44 202.6 403.41 203.6 403.38C204.6 403.35 205.6 403.31 206.6 403.28C207.6 403.25 208.6 403.22 209.6 403.18C210.6 403.15 211.6 403.12 212.6 403.09C213.6 403.05 214.6 403.02 215.6 402.99C216.6 402.96 217.6 402.93 218.6 402.89C219.6 402.86 220.6 402.82 221.6 402.78C222.6 402.73 223.6 402.68 224.6 402.61C225.6 402.54 226.6 402.44 227.6 402.35C228.6 402.25 229.6 402.14 230.6 402.04C231.6 401.93 232.6 401.82 233.6 401.7C234.6 401.59 235.6 401.47 236.6 401.35C237.6 401.23 238.6 401.08 239.6 400.96C240.6 400.84 241.6 400.71 242.6 400.66C243.6 400.6 244.6 400.6 245.6 400.63C246.6 400.65 247.6 400.74 248.6 400.82C249.6 400.9 250.6 401.01 251.6 401.12C252.6 401.22 253.6 401.34 254.6 401.44C255.6 401.55 256.6 401.66 257.6 401.73C258.6 401.8 259.6 401.86 260.6 401.89C261.6 401.92 262.6 401.91 263.6 401.91C264.6 401.91 265.6 401.88 266.6 401.89C267.6 401.89 268.6 401.89 269.6 401.93C270.6 401.97 271.6 402.03 272.6 402.11C273.6 402.18 274.6 402.29 275.6 402.39C276.6 402.49 277.6 402.59 278.6 402.71C279.6 402.83 280.6 402.96 281.6 403.11C282.6 403.26 283.6 403.44 284.6 403.62C285.6 403.8 286.6 404 287.6 404.2C288.6 404.4 289.6 404.6 290.6 404.82C291.6 405.04 292.6 405.27 293.6 405.52C294.6 405.78 295.6 406.06 296.6 406.35C297.6 406.63 298.6 406.94 299.6 407.23C300.6 407.52 301.6 407.82 302.6 408.09C303.6 408.37 304.6 408.63 305.6 408.87C306.6 409.11 307.6 409.32 308.6 409.54C309.6 409.75 310.6 409.94 311.6 410.15C312.6 410.36 313.6 410.57 314.6 410.79C315.6 411.02 316.6 411.27 317.6 411.53C318.6 411.79 319.6 412.08 320.6 412.37C321.6 412.66 322.6 412.96 323.6 413.26C324.6 413.57 325.6 413.88 326.6 414.21C327.6 414.54 328.6 414.89 329.6 415.25C330.6 415.62 331.6 416.01 332.6 416.39C333.6 416.78 334.6 417.18 335.6 417.58C336.6 417.97 337.6 418.37 338.6 418.77C339.6 419.17 340.6 419.57 341.6 419.97C342.6 420.38 343.6 420.78 344.6 421.19C345.6 421.59 346.6 422 347.6 422.4C348.6 422.8 349.6 423.21 350.6 423.61C351.6 424.01 352.6 424.41 353.6 424.81C354.6 425.21 355.6 425.6 356.6 426C357.6 426.4 358.6 426.8 359.6 427.21C360.6 427.63 361.6 428.05 362.6 428.49C363.6 428.93 364.6 429.4 365.6 429.88C366.6 430.36 367.6 430.86 368.6 431.35C369.6 431.84 370.6 432.34 371.6 432.82C372.6 433.31 373.6 433.78 374.6 434.23C375.6 434.68 376.6 435.11 377.6 435.53C378.6 435.96 379.6 436.36 380.6 436.76C381.6 437.17 382.6 437.57 383.6 437.94C384.6 438.32 385.6 438.68 386.6 439.02C387.6 439.36 388.6 439.66 389.6 439.96C390.6 440.26 391.6 440.54 392.6 440.82C393.6 441.1 394.6 441.39 395.6 441.66C396.6 441.93 397.6 442.2 398.6 442.45C399.6 442.7 400.6 442.94 401.6 443.16C402.6 443.38 403.6 443.58 404.6 443.78C405.6 443.98 406.6 444.18 407.6 444.38C408.6 444.57 409.6 444.78 410.6 444.97C411.6 445.17 412.6 445.37 413.6 445.54C414.6 445.72 415.6 445.88 416.6 446C417.6 446.12 418.6 446.2 419.6 446.26C420.6 446.32 421.6 446.36 422.6 446.37C423.6 446.39 424.6 446.38 425.6 446.35C426.6 446.33 427.6 446.27 428.6 446.21C429.6 446.14 430.6 446.06 431.6 445.96C432.6 445.86 433.6 445.74 434.6 445.6C435.6 445.46 436.6 445.3 437.6 445.13C438.6 444.96 439.6 444.77 440.6 444.57C441.6 444.37 442.6 444.14 443.6 443.94C444.6 443.73 445.6 443.51 446.6 443.31C447.6 443.12 448.6 442.96 449.6 442.79C450.6 442.62 451.6 442.48 452.6 442.31C453.6 442.14 454.6 441.98 455.6 441.79C456.6 441.6 457.6 441.41 458.6 441.19C459.6 440.96 460.6 440.72 461.6 440.45C462.6 440.18 463.6 439.89 464.6 439.59C465.6 439.29 466.6 438.96 467.6 438.64C468.6 438.31 469.6 437.96 470.6 437.62C471.6 437.28 472.6 436.94 473.6 436.61C474.6 436.28 475.6 435.96 476.6 435.65C477.6 435.34 478.6 435.05 479.6 434.74C480.6 434.43 481.6 434.12 482.6 433.79C483.6 433.46 484.6 433.12 485.6 432.76C486.6 432.41 487.6 432.04 488.6 431.67C489.6 431.3 490.6 430.91 491.6 430.52C492.6 430.13 493.6 429.72 494.6 429.33C495.6 428.93 496.6 428.53 497.6 428.12C498.6 427.72 499.6 427.32 500.6 426.9C501.6 426.47 502.6 426.04 503.6 425.57C504.6 425.1 505.6 424.59 506.6 424.09C507.6 423.58 508.6 423.05 509.6 422.56C510.6 422.08 511.6 421.61 512.6 421.17C513.6 420.73 514.6 420.33 515.6 419.93C516.6 419.53 517.6 419.15 518.6 418.77C519.6 418.38 520.6 418.02 521.6 417.64C522.6 417.27 523.6 416.91 524.6 416.52C525.6 416.13 526.6 415.74 527.6 415.31C528.6 414.88 529.6 414.41 530.6 413.96C531.6 413.5 532.6 413.01 533.6 412.56C534.6 412.11 535.6 411.67 536.6 411.25C537.6 410.82 538.6 410.42 539.6 410.01C540.6 409.61 541.6 409.21 542.6 408.8C543.6 408.39 544.6 407.98 545.6 407.56C546.6 407.14 547.6 406.71 548.6 406.26C549.6 405.81 550.6 405.35 551.6 404.86C552.6 404.38 553.6 403.88 554.6 403.37C555.6 402.86 556.6 402.34 557.6 401.81C558.6 401.29 559.6 400.74 560.6 400.23C561.6 399.71 562.6 399.2 563.6 398.73C564.6 398.25 565.6 397.82 566.6 397.39C567.6 396.97 568.6 396.57 569.6 396.18C570.6 395.79 571.6 395.41 572.6 395.03C573.6 394.65 574.6 394.29 575.6 393.91C576.6 393.53 577.6 393.16 578.6 392.77C579.6 392.38 580.6 391.98 581.6 391.58C582.6 391.19 583.6 390.79 584.6 390.41C585.6 390.02 586.6 389.67 587.6 389.28C588.6 388.88 589.6 388.49 590.6 388.04C591.6 387.59 592.6 387.09 593.6 386.59C594.6 386.1 595.6 385.57 596.6 385.07C597.6 384.57 598.6 384.09 599.6 383.61C600.6 383.13 601.6 382.66 602.6 382.16C603.6 381.67 604.6 381.17 605.6 380.65C606.6 380.14 607.6 379.61 608.6 379.08C609.6 378.55 610.6 378.01 611.6 377.48C612.6 376.96 613.6 376.43 614.6 375.91C615.6 375.39 616.6 374.88 617.6 374.36C618.6 373.84 619.6 373.33 620.6 372.78C621.6 372.24 622.6 371.67 623.6 371.1C624.6 370.53 625.6 369.94 626.6 369.36C627.6 368.79 628.6 368.22 629.6 367.65C630.6 367.09 631.6 366.54 632.6 365.98C633.6 365.43 634.6 364.89 635.6 364.33C636.6 363.78 637.6 363.22 638.6 362.65C639.6 362.08 640.6 361.49 641.6 360.92C642.6 360.34 643.6 359.74 644.6 359.18C645.6 358.61 646.6 358.05 647.6 357.54C648.6 357.03 649.6 356.55 650.6 356.12C651.6 355.69 652.6 355.33 653.6 354.96C654.6 354.58 655.6 354.25 656.6 353.87C657.6 353.49 658.6 353.09 659.6 352.66C660.6 352.24 661.6 351.78 662.6 351.31C663.6 350.84 664.6 350.34 665.6 349.85C666.6 349.37 667.6 348.87 668.6 348.4C669.6 347.93 670.6 347.48 671.6 347.02C672.6 346.57 673.6 346.13 674.6 345.69C675.6 345.24 676.6 344.8 677.6 344.35C678.6 343.89 679.6 343.44 680.6 342.96C681.6 342.49 682.6 341.99 683.6 341.5C684.6 341.01 685.6 340.51 686.6 340.04C687.6 339.56 688.6 339.1 689.6 338.64C690.6 338.19 691.6 337.75 692.6 337.3C693.6 336.86 694.6 336.42 695.6 335.97C696.6 335.51 697.6 335.06 698.6 334.59C699.6 334.12 700.6 333.63 701.6 333.14C702.6 332.65 703.6 332.14 704.6 331.64C705.6 331.14 706.6 330.64 707.6 330.14C708.6 329.64 709.6 329.14 710.6 328.64C711.6 328.13 712.6 327.6 713.6 327.08C714.6 326.56 715.6 326.01 716.6 325.5C717.6 324.99 718.6 324.49 719.6 324.03C720.6 323.57 721.6 323.15 722.6 322.72C723.6 322.3 724.6 321.89 725.6 321.48C726.6 321.06 727.6 320.63 728.6 320.23C729.6 319.83 730.6 319.43 731.6 319.08C732.6 318.73 733.6 318.42 734.6 318.13C735.6 317.84 736.6 317.59 737.6 317.35C738.6 317.11 739.6 316.89 740.6 316.69C741.6 316.49 742.6 316.3 743.6 316.14C744.6 315.98 745.6 315.85 746.6 315.73C747.6 315.62 748.6 315.53 749.6 315.46C750.6 315.38 751.6 315.33 752.6 315.28C753.6 315.23 754.77 315.2 755.6 315.18C756.43 315.15 757.27 315.14 757.6 315.14" stroke="#008400" stroke-width="1.95" fill="none" stroke-linejoin="round" stroke-linecap="round"/>
<path d="M2.3 484.03C2.8 484.16 4.3 484.51 5.3 484.8C6.3 485.09 7.3 485.44 8.3 485.78C9.3 486.12 10.3 486.47 11.3 486.82C12.3 487.17 13.3 487.52 14.3 487.89C15.3 488.27 16.3 488.63 17.3 489.06C18.3 489.49 19.3 489.97 20.3 490.46C21.3 490.94 22.3 491.45 23.3 491.95C24.3 492.46 25.3 492.97 26.3 493.47C27.3 493.97 28.3 494.51 29.3 494.96C30.3 495.4 31.3 495.82 32.3 496.16C33.3 496.49 34.3 496.73 35.3 496.96C36.3 497.19 37.3 497.41 38.3 497.53C39.3 497.65 40.3 497.67 41.3 497.69C42.3 497.72 43.3 497.72 44.3 497.68C45.3 497.64 46.3 497.58 47.3 497.46C48.3 497.34 49.3 497.15 50.3 496.94C51.3 496.74 52.3 496.49 53.3 496.23C54.3 495.96 55.3 495.63 56.3 495.34C57.3 495.05 58.3 494.73 59.3 494.49C60.3 494.25 61.3 494.06 62.3 493.9C63.3 493.74 64.3 493.61 65.3 493.51C66.3 493.41 67.3 493.36 68.3 493.32C69.3 493.28 70.3 493.31 71.3 493.27C72.3 493.23 73.3 493.17 74.3 493.09C75.3 493.01 76.3 492.89 77.3 492.79C78.3 492.69 79.3 492.58 80.3 492.48C81.3 492.39 82.3 492.28 83.3 492.2C84.3 492.13 85.3 492.07 86.3 492.03C87.3 491.98 88.3 491.95 89.3 491.93C90.3 491.91 91.3 491.91 92.3 491.9C93.3 491.9 94.3 491.9 95.3 491.92C96.3 491.94 97.3 491.97 98.3 491.99C99.3 492.02 100.3 492.06 101.3 492.07C102.3 492.09 103.3 492.08 104.3 492.1C105.3 492.13 106.3 492.14 107.3 492.22C108.3 492.3 109.3 492.44 110.3 492.58C111.3 492.73 112.3 492.87 113.3 493.08C114.3 493.29 115.3 493.57 116.3 493.86C117.3 494.15 118.3 494.53 119.3 494.81C120.3 495.1 121.3 495.42 122.3 495.59C123.3 495.77 124.3 495.93 125.3 495.84C126.3 495.75 127.3 495.45 128.3 495.06C129.3 494.66 130.3 494.09 131.3 493.47C132.3 492.85 133.3 492.06 134.3 491.33C135.3 490.6 136.3 489.84 137.3 489.1C138.3 488.36 139.3 487.59 140.3 486.87C141.3 486.16 142.3 485.44 143.3 484.81C144.3 484.17 145.3 483.69 146.3 483.08C147.3 482.46 148.3 481.82 149.3 481.1C150.3 480.39 151.3 479.5 152.3 478.76C153.3 478.03 154.3 477.37 155.3 476.69C156.3 476.02 157.3 475.43 158.3 474.73C159.3 474.03 160.3 473.29 161.3 472.49C162.3 471.7 163.3 470.93 164.3 469.97C165.3 469.02 166.3 467.9 167.3 466.76C168.3 465.63 169.3 464.37 170.3 463.17C171.3 461.98 172.3 460.76 173.3 459.59C174.3 458.41 175.3 457.18 176.3 456.13C177.3 455.07 178.3 454.13 179.3 453.25C180.3 452.37 181.3 451.63 182.3 450.84C183.3 450.05 184.3 449.28 185.3 448.52C186.3 447.75 187.3 446.99 188.3 446.25C189.3 445.51 190.3 444.77 191.3 444.08C192.3 443.39 193.3 442.75 194.3 442.1C195.3 441.46 196.3 440.82 197.3 440.2C198.3 439.58 199.3 438.97 200.3 438.4C201.3 437.84 202.3 437.33 203.3 436.8C204.3 436.28 205.3 435.78 206.3 435.24C207.3 434.71 208.3 434.15 209.3 433.59C210.3 433.03 211.3 432.47 212.3 431.86C213.3 431.24 214.3 430.61 215.3 429.88C216.3 429.15 217.3 428.31 218.3 427.48C219.3 426.64 220.3 425.81 221.3 424.88C222.3 423.95 223.3 422.93 224.3 421.9C225.3 420.87 226.3 419.77 227.3 418.68C228.3 417.59 229.3 416.48 230.3 415.35C231.3 414.23 232.3 413.06 233.3 411.91C234.3 410.76 235.3 409.57 236.3 408.47C237.3 407.36 238.3 406.25 239.3 405.27C240.3 404.29 241.3 403.44 242.3 402.58C243.3 401.72 244.3 400.94 245.3 400.11C246.3 399.27 247.3 398.41 248.3 397.58C249.3 396.75 250.3 395.91 251.3 395.14C252.3 394.37 253.3 393.61 254.3 392.95C255.3 392.29 256.3 391.78 257.3 391.17C258.3 390.57 259.3 390.06 260.3 389.34C261.3 388.62 262.3 387.77 263.3 386.85C264.3 385.93 265.3 384.86 266.3 383.83C267.3 382.8 268.3 381.55 269.3 380.67C270.3 379.78 271.3 379.01 272.3 378.51C273.3 378 274.3 377.82 275.3 377.65C276.3 377.48 277.3 377.5 278.3 377.49C279.3 377.48 280.3 377.47 281.3 377.6C282.3 377.73 283.3 377.99 284.3 378.26C285.3 378.53 286.3 378.88 287.3 379.22C288.3 379.56 289.3 379.94 290.3 380.3C291.3 380.65 292.3 381.03 293.3 381.35C294.3 381.66 295.3 381.93 296.3 382.2C297.3 382.47 298.3 382.72 299.3 382.98C300.3 383.24 301.3 383.49 302.3 383.76C303.3 384.02 304.3 384.29 305.3 384.57C306.3 384.86 307.3 385.16 308.3 385.46C309.3 385.75 310.3 386.06 311.3 386.36C312.3 386.66 313.3 386.96 314.3 387.28C315.3 387.6 316.3 387.93 317.3 388.29C318.3 388.65 319.3 389.05 320.3 389.43C321.3 389.82 322.3 390.23 323.3 390.61C324.3 391 325.3 391.42 326.3 391.76C327.3 392.09 328.3 392.4 329.3 392.63C330.3 392.87 331.3 393.01 332.3 393.19C333.3 393.36 334.3 393.52 335.3 393.68C336.3 393.84 337.3 394.01 338.3 394.16C339.3 394.32 340.3 394.47 341.3 394.62C342.3 394.76 343.3 394.9 344.3 395.03C345.3 395.17 346.3 395.3 347.3 395.45C348.3 395.59 349.3 395.72 350.3 395.9C351.3 396.08 352.3 396.3 353.3 396.53C354.3 396.76 355.3 397.04 356.3 397.29C357.3 397.55 358.3 397.79 359.3 398.07C360.3 398.35 361.3 398.6 362.3 398.97C363.3 399.35 364.3 399.83 365.3 400.33C366.3 400.82 367.3 401.39 368.3 401.93C369.3 402.47 370.3 403.01 371.3 403.57C372.3 404.13 373.3 404.67 374.3 405.29C375.3 405.9 376.3 406.59 377.3 407.26C378.3 407.94 379.3 408.65 380.3 409.35C381.3 410.05 382.3 410.75 383.3 411.44C384.3 412.14 385.3 412.84 386.3 413.54C387.3 414.24 388.3 414.94 389.3 415.63C390.3 416.33 391.3 417.04 392.3 417.73C393.3 418.42 394.3 419.16 395.3 419.79C396.3 420.42 397.3 421.04 398.3 421.51C399.3 421.98 400.3 422.27 401.3 422.61C402.3 422.96 403.3 423.25 404.3 423.58C405.3 423.91 406.3 424.23 407.3 424.59C408.3 424.95 409.3 425.32 410.3 425.74C411.3 426.17 412.3 426.69 413.3 427.14C414.3 427.59 415.3 428.08 416.3 428.45C417.3 428.82 418.3 429.14 419.3 429.35C420.3 429.57 421.3 429.71 422.3 429.72C423.3 429.73 424.3 429.57 425.3 429.43C426.3 429.3 427.3 429.11 428.3 428.94C429.3 428.76 430.3 428.55 431.3 428.38C432.3 428.22 433.3 428.07 434.3 427.95C435.3 427.84 436.3 427.79 437.3 427.7C438.3 427.61 439.3 427.56 440.3 427.42C441.3 427.29 442.3 427.17 443.3 426.88C444.3 426.6 445.3 426.17 446.3 425.72C447.3 425.28 448.3 424.73 449.3 424.23C450.3 423.73 451.3 423.22 452.3 422.71C453.3 422.21 454.3 421.74 455.3 421.2C456.3 420.65 457.3 420.08 458.3 419.43C459.3 418.78 460.3 418.06 461.3 417.28C462.3 416.5 463.3 415.64 464.3 414.75C465.3 413.86 466.3 412.91 467.3 411.96C468.3 411.01 469.3 409.99 470.3 409.03C471.3 408.07 472.3 407.14 473.3 406.18C474.3 405.21 475.3 404.29 476.3 403.25C477.3 402.21 478.3 401.11 479.3 399.92C480.3 398.74 481.3 397.45 482.3 396.15C483.3 394.85 484.3 393.47 485.3 392.11C486.3 390.75 487.3 389.33 488.3 388.01C489.3 386.69 490.3 385.45 491.3 384.2C492.3 382.94 493.3 381.68 494.3 380.48C495.3 379.28 496.3 378.02 497.3 377C498.3 375.99 499.3 375.36 500.3 374.39C501.3 373.41 502.3 372.27 503.3 371.13C504.3 369.99 505.3 368.73 506.3 367.53C507.3 366.33 508.3 365.12 509.3 363.92C510.3 362.71 511.3 361.51 512.3 360.31C513.3 359.11 514.3 357.91 515.3 356.71C516.3 355.51 517.3 354.32 518.3 353.12C519.3 351.93 520.3 350.74 521.3 349.54C522.3 348.34 523.3 347.16 524.3 345.94C525.3 344.71 526.3 343.48 527.3 342.21C528.3 340.94 529.3 339.63 530.3 338.34C531.3 337.04 532.3 335.74 533.3 334.43C534.3 333.13 535.3 331.84 536.3 330.53C537.3 329.22 538.3 327.91 539.3 326.56C540.3 325.21 541.3 323.82 542.3 322.43C543.3 321.04 544.3 319.63 545.3 318.23C546.3 316.83 547.3 315.43 548.3 314.03C549.3 312.62 550.3 311.23 551.3 309.8C552.3 308.36 553.3 306.91 554.3 305.41C555.3 303.92 556.3 302.41 557.3 300.85C558.3 299.29 559.3 297.69 560.3 296.06C561.3 294.43 562.3 292.72 563.3 291.09C564.3 289.46 565.3 287.73 566.3 286.27C567.3 284.81 568.3 283.59 569.3 282.33C570.3 281.07 571.3 279.93 572.3 278.73C573.3 277.52 574.3 276.32 575.3 275.11C576.3 273.91 577.3 272.7 578.3 271.49C579.3 270.29 580.3 269.1 581.3 267.9C582.3 266.7 583.3 265.51 584.3 264.29C585.3 263.08 586.3 261.85 587.3 260.6C588.3 259.36 589.3 258.08 590.3 256.82C591.3 255.56 592.3 254.29 593.3 253.06C594.3 251.82 595.3 250.63 596.3 249.43C597.3 248.23 598.3 247.06 599.3 245.87C600.3 244.69 601.3 243.49 602.3 242.33C603.3 241.18 604.3 240.02 605.3 238.93C606.3 237.85 607.3 236.78 608.3 235.84C609.3 234.9 610.3 234.07 611.3 233.29C612.3 232.51 613.3 231.86 614.3 231.16C615.3 230.46 616.3 229.78 617.3 229.09C618.3 228.39 619.3 227.7 620.3 227C621.3 226.3 622.3 225.59 623.3 224.88C624.3 224.18 625.3 223.44 626.3 222.77C627.3 222.11 628.3 221.41 629.3 220.88C630.3 220.35 631.3 219.99 632.3 219.61C633.3 219.23 634.3 218.94 635.3 218.62C636.3 218.3 637.3 217.95 638.3 217.69C639.3 217.44 640.3 217.22 641.3 217.08C642.3 216.93 643.3 216.89 644.3 216.82C645.3 216.74 646.3 216.68 647.3 216.62C648.3 216.55 649.3 216.49 650.3 216.42C651.3 216.36 652.3 216.29 653.3 216.23C654.3 216.16 655.3 216.12 656.3 216.03C657.3 215.94 658.3 215.89 659.3 215.68C660.3 215.48 661.3 215.14 662.3 214.79C663.3 214.45 664.3 213.99 665.3 213.62C666.3 213.25 667.3 212.91 668.3 212.58C669.3 212.25 670.3 211.98 671.3 211.65C672.3 211.33 673.3 211 674.3 210.64C675.3 210.28 676.3 209.86 677.3 209.49C678.3 209.12 679.3 208.74 680.3 208.39C681.3 208.05 682.3 207.77 683.3 207.44C684.3 207.1 685.3 206.8 686.3 206.4C687.3 206.01 688.3 205.52 689.3 205.07C690.3 204.61 691.3 204.09 692.3 203.67C693.3 203.25 694.3 202.89 695.3 202.55C696.3 202.22 697.3 201.92 698.3 201.65C699.3 201.39 700.3 201.15 701.3 200.95C702.3 200.74 703.3 200.59 704.3 200.44C705.3 200.29 706.3 200.16 707.3 200.06C708.3 199.97 709.3 199.9 710.3 199.87C711.3 199.84 712.3 199.84 713.3 199.86C714.3 199.88 715.3 199.91 716.3 199.99C717.3 200.07 718.3 200.19 719.3 200.32C720.3 200.45 721.3 200.61 722.3 200.76C723.3 200.91 724.3 201.06 725.3 201.23C726.3 201.4 727.3 201.57 728.3 201.77C729.3 201.98 730.3 202.2 731.3 202.45C732.3 202.71 733.3 203.01 734.3 203.3C735.3 203.58 736.3 203.87 737.3 204.15C738.3 204.43 739.3 204.69 740.3 205C741.3 205.31 742.3 205.6 743.3 206.01C744.3 206.41 745.3 206.88 746.3 207.43C747.3 207.99 748.3 208.64 749.3 209.34C750.3 210.04 751.3 210.83 752.3 211.64C753.3 212.45 754.47 213.53 755.3 214.18C756.13 214.82 756.97 215.29 757.3 215.51" stroke="#0000ff" stroke-width="1.9" fill="none" stroke-linejoin="round" stroke-linecap="round"/>
<path d="M2.3 490.13C2.8 490.06 4.3 489.85 5.3 489.69C6.3 489.52 7.3 489.35 8.3 489.17C9.3 488.98 10.3 488.78 11.3 488.58C12.3 488.38 13.3 488.12 14.3 487.95C15.3 487.78 16.3 487.44 17.3 487.57C18.3 487.7 19.3 488.27 20.3 488.75C21.3 489.23 22.3 489.72 23.3 490.48C24.3 491.23 25.3 492.35 26.3 493.3C27.3 494.25 28.3 495.3 29.3 496.18C30.3 497.07 31.3 497.84 32.3 498.62C33.3 499.4 34.3 500.18 35.3 500.87C36.3 501.55 37.3 502.21 38.3 502.71C39.3 503.21 40.3 503.74 41.3 503.85C42.3 503.97 43.3 503.59 44.3 503.4C45.3 503.21 46.3 502.98 47.3 502.71C48.3 502.44 49.3 502.17 50.3 501.79C51.3 501.4 52.3 500.98 53.3 500.4C54.3 499.81 55.3 499.01 56.3 498.3C57.3 497.59 58.3 496.78 59.3 496.13C60.3 495.48 61.3 494.9 62.3 494.41C63.3 493.93 64.3 493.54 65.3 493.23C66.3 492.92 67.3 492.7 68.3 492.53C69.3 492.36 70.3 492.37 71.3 492.2C72.3 492.04 73.3 491.8 74.3 491.54C75.3 491.28 76.3 490.96 77.3 490.66C78.3 490.37 79.3 490.07 80.3 489.78C81.3 489.5 82.3 489.15 83.3 488.93C84.3 488.71 85.3 488.59 86.3 488.46C87.3 488.34 88.3 488.21 89.3 488.19C90.3 488.17 91.3 488.27 92.3 488.36C93.3 488.45 94.3 488.53 95.3 488.72C96.3 488.91 97.3 489.21 98.3 489.49C99.3 489.77 100.3 490.06 101.3 490.41C102.3 490.75 103.3 491.19 104.3 491.55C105.3 491.91 106.3 492.36 107.3 492.6C108.3 492.83 109.3 492.84 110.3 492.94C111.3 493.03 112.3 493.05 113.3 493.17C114.3 493.29 115.3 493.44 116.3 493.64C117.3 493.85 118.3 494.15 119.3 494.41C120.3 494.67 121.3 494.94 122.3 495.19C123.3 495.44 124.3 496.01 125.3 495.9C126.3 495.8 127.3 495.34 128.3 494.58C129.3 493.81 130.3 492.78 131.3 491.32C132.3 489.87 133.3 487.71 134.3 485.85C135.3 483.98 136.3 481.91 137.3 480.12C138.3 478.33 139.3 476.72 140.3 475.1C141.3 473.48 142.3 471.91 143.3 470.4C144.3 468.9 145.3 467.34 146.3 466.06C147.3 464.79 148.3 464.14 149.3 462.73C150.3 461.32 151.3 459.45 152.3 457.6C153.3 455.74 154.3 453.55 155.3 451.62C156.3 449.69 157.3 447.85 158.3 446.01C159.3 444.16 160.3 442.49 161.3 440.56C162.3 438.64 163.3 436.57 164.3 434.46C165.3 432.36 166.3 430.21 167.3 427.93C168.3 425.65 169.3 423.28 170.3 420.81C171.3 418.34 172.3 415.74 173.3 413.12C174.3 410.51 175.3 407.73 176.3 405.1C177.3 402.48 178.3 399.8 179.3 397.36C180.3 394.92 181.3 392.56 182.3 390.45C183.3 388.34 184.3 386.38 185.3 384.71C186.3 383.03 187.3 381.54 188.3 380.42C189.3 379.3 190.3 378.4 191.3 377.98C192.3 377.56 193.3 377.87 194.3 377.89C195.3 377.9 196.3 378.04 197.3 378.09C198.3 378.15 199.3 378.25 200.3 378.21C201.3 378.18 202.3 378.16 203.3 377.88C204.3 377.6 205.3 377.09 206.3 376.55C207.3 376 208.3 375.14 209.3 374.6C210.3 374.05 211.3 373.63 212.3 373.27C213.3 372.91 214.3 372.75 215.3 372.44C216.3 372.13 217.3 371.86 218.3 371.39C219.3 370.92 220.3 370.3 221.3 369.64C222.3 368.98 223.3 368.02 224.3 367.44C225.3 366.87 226.3 366.31 227.3 366.2C228.3 366.09 229.3 366.58 230.3 366.76C231.3 366.95 232.3 367.23 233.3 367.3C234.3 367.37 235.3 367.22 236.3 367.17C237.3 367.11 238.3 367.04 239.3 366.96C240.3 366.88 241.3 366.92 242.3 366.7C243.3 366.48 244.3 365.88 245.3 365.64C246.3 365.39 247.3 365.21 248.3 365.25C249.3 365.3 250.3 365.65 251.3 365.91C252.3 366.17 253.3 366.5 254.3 366.79C255.3 367.08 256.3 367.37 257.3 367.63C258.3 367.89 259.3 368.37 260.3 368.38C261.3 368.38 262.3 368.01 263.3 367.65C264.3 367.28 265.3 366.62 266.3 366.19C267.3 365.75 268.3 365.09 269.3 365.03C270.3 364.97 271.3 365.4 272.3 365.82C273.3 366.24 274.3 366.79 275.3 367.56C276.3 368.33 277.3 369.43 278.3 370.44C279.3 371.45 280.3 372.51 281.3 373.63C282.3 374.75 283.3 375.97 284.3 377.16C285.3 378.35 286.3 379.57 287.3 380.78C288.3 381.99 289.3 383.11 290.3 384.4C291.3 385.69 292.3 386.74 293.3 388.52C294.3 390.3 295.3 392.84 296.3 395.07C297.3 397.31 298.3 399.97 299.3 401.91C300.3 403.86 301.3 405.35 302.3 406.74C303.3 408.13 304.3 409.22 305.3 410.23C306.3 411.24 307.3 411.98 308.3 412.78C309.3 413.59 310.3 414.37 311.3 415.05C312.3 415.72 313.3 416.27 314.3 416.85C315.3 417.44 316.3 418.01 317.3 418.54C318.3 419.06 319.3 419.53 320.3 420.03C321.3 420.53 322.3 420.96 323.3 421.51C324.3 422.07 325.3 422.6 326.3 423.37C327.3 424.14 328.3 425.56 329.3 426.14C330.3 426.72 331.3 426.88 332.3 426.83C333.3 426.78 334.3 426.35 335.3 425.84C336.3 425.33 337.3 424.33 338.3 423.76C339.3 423.2 340.3 422.75 341.3 422.43C342.3 422.12 343.3 422.12 344.3 421.9C345.3 421.68 346.3 421.48 347.3 421.11C348.3 420.75 349.3 420.17 350.3 419.7C351.3 419.23 352.3 418.71 353.3 418.28C354.3 417.86 355.3 417.53 356.3 417.17C357.3 416.82 358.3 416.46 359.3 416.15C360.3 415.84 361.3 415.5 362.3 415.3C363.3 415.09 364.3 414.77 365.3 414.9C366.3 415.04 367.3 415.63 368.3 416.12C369.3 416.61 370.3 417.22 371.3 417.84C372.3 418.46 373.3 419.19 374.3 419.83C375.3 420.48 376.3 421.15 377.3 421.72C378.3 422.29 379.3 422.76 380.3 423.27C381.3 423.78 382.3 424.25 383.3 424.79C384.3 425.32 385.3 425.79 386.3 426.49C387.3 427.19 388.3 428.14 389.3 428.99C390.3 429.84 391.3 430.75 392.3 431.6C393.3 432.45 394.3 433.4 395.3 434.06C396.3 434.72 397.3 435.12 398.3 435.56C399.3 436 400.3 436.35 401.3 436.69C402.3 437.02 403.3 437.29 404.3 437.6C405.3 437.9 406.3 438.2 407.3 438.5C408.3 438.8 409.3 439.1 410.3 439.4C411.3 439.7 412.3 440.02 413.3 440.31C414.3 440.59 415.3 440.97 416.3 441.11C417.3 441.25 418.3 441.16 419.3 441.14C420.3 441.11 421.3 441.06 422.3 440.96C423.3 440.85 424.3 440.81 425.3 440.52C426.3 440.23 427.3 439.71 428.3 439.2C429.3 438.69 430.3 438.11 431.3 437.47C432.3 436.84 433.3 436.15 434.3 435.4C435.3 434.65 436.3 433.8 437.3 432.98C438.3 432.17 439.3 431.37 440.3 430.5C441.3 429.63 442.3 428.82 443.3 427.76C444.3 426.7 445.3 425.47 446.3 424.12C447.3 422.77 448.3 421.19 449.3 419.66C450.3 418.13 451.3 416.45 452.3 414.94C453.3 413.42 454.3 411.94 455.3 410.59C456.3 409.25 457.3 408.24 458.3 406.86C459.3 405.48 460.3 404.06 461.3 402.31C462.3 400.56 463.3 398.85 464.3 396.35C465.3 393.86 466.3 390.49 467.3 387.36C468.3 384.24 469.3 381.01 470.3 377.62C471.3 374.22 472.3 370.31 473.3 366.98C474.3 363.65 475.3 360.73 476.3 357.64C477.3 354.55 478.3 351.56 479.3 348.44C480.3 345.33 481.3 342.08 482.3 338.95C483.3 335.82 484.3 332.72 485.3 329.66C486.3 326.6 487.3 323.59 488.3 320.58C489.3 317.57 490.3 314.47 491.3 311.61C492.3 308.75 493.3 306.32 494.3 303.41C495.3 300.5 496.3 297.29 497.3 294.15C498.3 291.01 499.3 287.7 500.3 284.56C501.3 281.41 502.3 278.4 503.3 275.26C504.3 272.13 505.3 268.51 506.3 265.73C507.3 262.94 508.3 260.87 509.3 258.55C510.3 256.23 511.3 254.02 512.3 251.82C513.3 249.62 514.3 247.17 515.3 245.37C516.3 243.56 517.3 242.11 518.3 240.99C519.3 239.86 520.3 239.13 521.3 238.61C522.3 238.08 523.3 238 524.3 237.82C525.3 237.63 526.3 237.57 527.3 237.47C528.3 237.37 529.3 237.29 530.3 237.22C531.3 237.14 532.3 236.99 533.3 237.04C534.3 237.1 535.3 237.03 536.3 237.53C537.3 238.04 538.3 239.22 539.3 240.06C540.3 240.9 541.3 241.78 542.3 242.58C543.3 243.38 544.3 244.2 545.3 244.85C546.3 245.51 547.3 246.35 548.3 246.5C549.3 246.65 550.3 246.01 551.3 245.76C552.3 245.51 553.3 245.17 554.3 244.97C555.3 244.77 556.3 244.72 557.3 244.56C558.3 244.4 559.3 244.29 560.3 244.02C561.3 243.75 562.3 243.31 563.3 242.93C564.3 242.56 565.3 242.16 566.3 241.78C567.3 241.4 568.3 241.01 569.3 240.63C570.3 240.26 571.3 239.9 572.3 239.54C573.3 239.18 574.3 238.83 575.3 238.48C576.3 238.12 577.3 237.8 578.3 237.4C579.3 237 580.3 236.58 581.3 236.09C582.3 235.6 583.3 235.01 584.3 234.47C585.3 233.94 586.3 233.42 587.3 232.85C588.3 232.29 589.3 231.75 590.3 231.09C591.3 230.43 592.3 229.68 593.3 228.91C594.3 228.14 595.3 227.32 596.3 226.48C597.3 225.64 598.3 224.69 599.3 223.89C600.3 223.09 601.3 222.39 602.3 221.66C603.3 220.94 604.3 220.25 605.3 219.54C606.3 218.83 607.3 218.12 608.3 217.42C609.3 216.72 610.3 216.02 611.3 215.33C612.3 214.63 613.3 213.95 614.3 213.26C615.3 212.57 616.3 211.89 617.3 211.19C618.3 210.48 619.3 209.78 620.3 209.02C621.3 208.25 622.3 207.42 623.3 206.61C624.3 205.8 625.3 205.02 626.3 204.19C627.3 203.36 628.3 202.64 629.3 201.63C630.3 200.62 631.3 199.34 632.3 198.13C633.3 196.93 634.3 195.58 635.3 194.43C636.3 193.27 637.3 192.21 638.3 191.18C639.3 190.15 640.3 189.35 641.3 188.26C642.3 187.17 643.3 185.47 644.3 184.64C645.3 183.82 646.3 183.53 647.3 183.31C648.3 183.09 649.3 183.29 650.3 183.3C651.3 183.31 652.3 183.28 653.3 183.38C654.3 183.48 655.3 183.71 656.3 183.89C657.3 184.07 658.3 184.31 659.3 184.47C660.3 184.63 661.3 184.73 662.3 184.85C663.3 184.97 664.3 185.02 665.3 185.18C666.3 185.34 667.3 185.57 668.3 185.81C669.3 186.06 670.3 186.3 671.3 186.67C672.3 187.03 673.3 187.44 674.3 188.01C675.3 188.59 676.3 189.42 677.3 190.12C678.3 190.81 679.3 191.53 680.3 192.18C681.3 192.83 682.3 193.42 683.3 194.02C684.3 194.62 685.3 195.24 686.3 195.8C687.3 196.36 688.3 196.78 689.3 197.37C690.3 197.95 691.3 198.61 692.3 199.3C693.3 199.99 694.3 200.78 695.3 201.49C696.3 202.2 697.3 202.9 698.3 203.55C699.3 204.2 700.3 204.9 701.3 205.37C702.3 205.85 703.3 206.35 704.3 206.4C705.3 206.46 706.3 206.04 707.3 205.72C708.3 205.39 709.3 204.86 710.3 204.45C711.3 204.04 712.3 203.49 713.3 203.26C714.3 203.03 715.3 203.03 716.3 203.07C717.3 203.1 718.3 203.23 719.3 203.48C720.3 203.73 721.3 203.96 722.3 204.58C723.3 205.2 724.3 206.23 725.3 207.21C726.3 208.19 727.3 209.41 728.3 210.47C729.3 211.53 730.3 212.5 731.3 213.57C732.3 214.64 733.3 215.75 734.3 216.9C735.3 218.05 736.3 219.28 737.3 220.49C738.3 221.7 739.3 222.91 740.3 224.15C741.3 225.39 742.3 226.55 743.3 227.92C744.3 229.28 745.3 230.77 746.3 232.32C747.3 233.87 748.3 235.54 749.3 237.22C750.3 238.9 751.3 240.52 752.3 242.43C753.3 244.34 754.38 246.8 755.3 248.69C756.22 250.57 757.38 252.88 757.8 253.71" stroke="#ff0000" stroke-width="1.5" fill="none" stroke-linejoin="round" stroke-linecap="round"/>
<path d="M793 106.5h2.5 M793 99.3h5 M793 92.1h2.5 M793 84.9h5 M793 77.7h2.5 M793 70.5h5 M793 63.3h2.5 M793 56.1h5 M793 48.9h2.5 M793 41.7h5 M793 34.5h2.5 M793 27.3h5 M793 20.1h2.5 M793 12.9h5 M793 5.7h2.5 M793 567.24h2.5 M793 560.08h2.5 M793 552.92h2.5 M793 545.76h2.5 M793 538.6h5 M793 531.44h2.5 M793 524.28h2.5 M793 517.12h2.5 M793 509.96h2.5 M793 502.8h5 M793 495.64h2.5 M793 488.48h2.5 M793 481.32h2.5 M793 474.16h2.5 M793 467h5 M793 459.84h2.5 M793 452.68h2.5 M793 445.52h2.5 M793 438.36h2.5 M793 431.2h5 M793 424.04h2.5 M793 416.88h2.5 M793 409.72h2.5 M793 402.56h2.5 M793 395.4h5 M793 388.24h2.5 M793 381.08h2.5 M793 373.92h2.5 M793 366.76h2.5 M793 359.6h5 M793 352.44h2.5 M793 345.28h2.5 M793 338.12h2.5 M793 330.96h2.5 M793 323.8h5 M793 316.64h2.5 M793 309.48h2.5 M793 302.32h2.5 M793 295.16h2.5 M793 288h5 M793 280.84h2.5 M793 273.68h2.5 M793 266.52h2.5 M793 259.36h2.5 M793 252.2h5 M793 245.04h2.5 M793 237.88h2.5 M793 230.72h2.5 M793 223.56h2.5 M793 216.4h5 M793 209.24h2.5 M793 202.08h2.5 M793 194.92h2.5 M793 187.76h2.5 M793 180.6h5 M793 173.44h2.5 M793 166.28h2.5 M793 159.12h2.5 M793 151.96h2.5 M793 144.8h5 M793 137.64h2.5 M793 130.48h2.5 M793 123.32h2.5 M793 116.16h2.5 M793 109h5" stroke="#222" stroke-width="1.2" fill="none"/>
<text transform="translate(818.6,105.1) scale(0.56,1)" font-family="'Liberation Sans', Arial, sans-serif" font-size="11.8" fill="#1a1a1a" stroke="#1a1a1a" stroke-width="0.18" text-anchor="end">20</text>
<text transform="translate(818.6,90.7) scale(0.56,1)" font-family="'Liberation Sans', Arial, sans-serif" font-size="11.8" fill="#1a1a1a" stroke="#1a1a1a" stroke-width="0.18" text-anchor="end">30</text>
<text transform="translate(818.6,76.3) scale(0.56,1)" font-family="'Liberation Sans', Arial, sans-serif" font-size="11.8" fill="#1a1a1a" stroke="#1a1a1a" stroke-width="0.18" text-anchor="end">40</text>
<text transform="translate(818.6,61.9) scale(0.56,1)" font-family="'Liberation Sans', Arial, sans-serif" font-size="11.8" fill="#1a1a1a" stroke="#1a1a1a" stroke-width="0.18" text-anchor="end">50</text>
<text transform="translate(818.6,47.5) scale(0.56,1)" font-family="'Liberation Sans', Arial, sans-serif" font-size="11.8" fill="#1a1a1a" stroke="#1a1a1a" stroke-width="0.18" text-anchor="end">60</text>
<text transform="translate(818.6,33.1) scale(0.56,1)" font-family="'Liberation Sans', Arial, sans-serif" font-size="11.8" fill="#1a1a1a" stroke="#1a1a1a" stroke-width="0.18" text-anchor="end">70</text>
<text transform="translate(818.6,18.7) scale(0.56,1)" font-family="'Liberation Sans', Arial, sans-serif" font-size="11.8" fill="#1a1a1a" stroke="#1a1a1a" stroke-width="0.18" text-anchor="end">80</text>
<text transform="translate(818.6,543.6) scale(0.6,1)" font-family="'Liberation Sans', Arial, sans-serif" font-size="11.8" fill="#1a1a1a" stroke="#1a1a1a" stroke-width="0.18" text-anchor="end">600</text>
<text transform="translate(818.6,507.8) scale(0.6,1)" font-family="'Liberation Sans', Arial, sans-serif" font-size="11.8" fill="#1a1a1a" stroke="#1a1a1a" stroke-width="0.18" text-anchor="end">650</text>
<text transform="translate(818.6,472) scale(0.6,1)" font-family="'Liberation Sans', Arial, sans-serif" font-size="11.8" fill="#1a1a1a" stroke="#1a1a1a" stroke-width="0.18" text-anchor="end">700</text>
<text transform="translate(818.6,436.2) scale(0.6,1)" font-family="'Liberation Sans', Arial, sans-serif" font-size="11.8" fill="#1a1a1a" stroke="#1a1a1a" stroke-width="0.18" text-anchor="end">750</text>
<text transform="translate(818.6,400.4) scale(0.6,1)" font-family="'Liberation Sans', Arial, sans-serif" font-size="11.8" fill="#1a1a1a" stroke="#1a1a1a" stroke-width="0.18" text-anchor="end">800</text>
<text transform="translate(818.6,364.6) scale(0.6,1)" font-family="'Liberation Sans', Arial, sans-serif" font-size="11.8" fill="#1a1a1a" stroke="#1a1a1a" stroke-width="0.18" text-anchor="end">850</text>
<text transform="translate(818.6,328.8) scale(0.6,1)" font-family="'Liberation Sans', Arial, sans-serif" font-size="11.8" fill="#1a1a1a" stroke="#1a1a1a" stroke-width="0.18" text-anchor="end">900</text>
<text transform="translate(818.6,293) scale(0.6,1)" font-family="'Liberation Sans', Arial, sans-serif" font-size="11.8" fill="#1a1a1a" stroke="#1a1a1a" stroke-width="0.18" text-anchor="end">950</text>
<text transform="translate(818.6,257.2) scale(0.6,1)" font-family="'Liberation Sans', Arial, sans-serif" font-size="11.8" fill="#1a1a1a" stroke="#1a1a1a" stroke-width="0.18" text-anchor="end">1000</text>
<text transform="translate(818.6,221.4) scale(0.6,1)" font-family="'Liberation Sans', Arial, sans-serif" font-size="11.8" fill="#1a1a1a" stroke="#1a1a1a" stroke-width="0.18" text-anchor="end">1050</text>
<text transform="translate(818.6,185.6) scale(0.6,1)" font-family="'Liberation Sans', Arial, sans-serif" font-size="11.8" fill="#1a1a1a" stroke="#1a1a1a" stroke-width="0.18" text-anchor="end">1100</text>
<text transform="translate(818.6,149.8) scale(0.6,1)" font-family="'Liberation Sans', Arial, sans-serif" font-size="11.8" fill="#1a1a1a" stroke="#1a1a1a" stroke-width="0.18" text-anchor="end">1150</text>
<text transform="translate(346.6,15) scale(0.618,1)" font-family="'Liberation Sans', Arial, sans-serif" font-size="11.2" fill="#1a1a1a" stroke="#1a1a1a" stroke-width="0.3" text-anchor="start">Relative Strength Index(19.2237)</text>
<text transform="translate(310.2,123.3) scale(0.582,1)" font-family="'Liberation Sans', Arial, sans-serif" font-size="11.6" fill="#1a1a1a" stroke="#1a1a1a" stroke-width="0.3" text-anchor="start">Τράπεζες (876.560, 881.640, 825.480, 831.870, -28.2500)</text>
<path d="M2 573.9H792.5M2 588.2H792.5" stroke="#333" stroke-width="1.4" fill="none"/>
<path d="M15.4 573.9V588.2 M30.5 573.9V588.2 M45.5 573.9V588.2 M60.4 573.9V588.2 M75.4 573.9V588.2 M88.6 573.9V588.2 M103.2 573.9V588.2 M118.2 573.9V588.2 M133.6 573.9V588.2 M148.7 573.9V588.2 M163.7 573.9V588.2 M179.3 573.9V588.2 M194.6 573.9V588.2 M208.7 573.9V588.2 M221.3 573.9V588.2 M230.3 573.9V588.2 M245.6 573.9V588.2 M261 573.9V588.2 M276.4 573.9V588.2 M291.6 573.9V588.2 M305.9 573.9V588.2 M321.3 573.9V588.2 M336.5 573.9V588.2 M348.7 573.9V588.2 M363.5 573.9V588.2 M378.6 573.9V588.2 M394.1 573.9V588.2 M409.4 573.9V588.2 M424.7 573.9V588.2 M436.9 573.9V588.2 M448.3 573.9V588.2 M463.9 573.9V588.2 M475.5 573.9V588.2 M490.8 573.9V588.2 M506.4 573.9V588.2 M521.5 573.9V588.2 M537 573.9V588.2 M548.5 573.9V588.2 M563.5 573.9V588.2 M578.6 573.9V588.2 M593.7 573.9V588.2 M609 573.9V588.2 M624.3 573.9V588.2 M639.4 573.9V588.2 M654.9 573.9V588.2 M669.5 573.9V588.2 M684.8 573.9V588.2 M697.4 573.9V588.2 M712.5 573.9V588.2 M727 573.9V588.2 M742.4 573.9V588.2 M757.4 573.9V588.2 M772.5 573.9V588.2 M787.7 573.9V588.2" stroke="#444" stroke-width="1" fill="none"/>
<g clip-path="url(#cl)">
<text transform="translate(2.2,585.2) scale(0.58,1)" font-family="'Liberation Sans', Arial, sans-serif" font-size="11.8" fill="#1a1a1a" stroke="#1a1a1a" stroke-width="0.3" text-anchor="start">19</text>
<text transform="translate(16.4,585.2) scale(0.58,1)" font-family="'Liberation Sans', Arial, sans-serif" font-size="11.8" fill="#1a1a1a" stroke="#1a1a1a" stroke-width="0.3" text-anchor="start">26</text>
<text transform="translate(31.5,585.2) scale(0.58,1)" font-family="'Liberation Sans', Arial, sans-serif" font-size="11.8" fill="#1a1a1a" stroke="#1a1a1a" stroke-width="0.3" text-anchor="start">3</text>
<text transform="translate(46.5,585.2) scale(0.58,1)" font-family="'Liberation Sans', Arial, sans-serif" font-size="11.8" fill="#1a1a1a" stroke="#1a1a1a" stroke-width="0.3" text-anchor="start">10</text>
<text transform="translate(61.4,585.2) scale(0.58,1)" font-family="'Liberation Sans', Arial, sans-serif" font-size="11.8" fill="#1a1a1a" stroke="#1a1a1a" stroke-width="0.3" text-anchor="start">17</text>
<text transform="translate(76.4,585.2) scale(0.58,1)" font-family="'Liberation Sans', Arial, sans-serif" font-size="11.8" fill="#1a1a1a" stroke="#1a1a1a" stroke-width="0.3" text-anchor="start">24</text>
<text transform="translate(89.6,585.2) scale(0.58,1)" font-family="'Liberation Sans', Arial, sans-serif" font-size="11.8" fill="#1a1a1a" stroke="#1a1a1a" stroke-width="0.3" text-anchor="start">31</text>
<text transform="translate(104.2,585.2) scale(0.58,1)" font-family="'Liberation Sans', Arial, sans-serif" font-size="11.8" fill="#1a1a1a" stroke="#1a1a1a" stroke-width="0.3" text-anchor="start">7</text>
<text transform="translate(119.2,585.2) scale(0.58,1)" font-family="'Liberation Sans', Arial, sans-serif" font-size="11.8" fill="#1a1a1a" stroke="#1a1a1a" stroke-width="0.3" text-anchor="start">14</text>
<text transform="translate(134.6,585.2) scale(0.58,1)" font-family="'Liberation Sans', Arial, sans-serif" font-size="11.8" fill="#1a1a1a" stroke="#1a1a1a" stroke-width="0.3" text-anchor="start">21</text>
<text transform="translate(149.7,585.2) scale(0.58,1)" font-family="'Liberation Sans', Arial, sans-serif" font-size="11.8" fill="#1a1a1a" stroke="#1a1a1a" stroke-width="0.3" text-anchor="start">28</text>
<text transform="translate(164.7,585.2) scale(0.58,1)" font-family="'Liberation Sans', Arial, sans-serif" font-size="11.8" fill="#1a1a1a" stroke="#1a1a1a" stroke-width="0.3" text-anchor="start">5</text>
<text transform="translate(180.3,585.2) scale(0.58,1)" font-family="'Liberation Sans', Arial, sans-serif" font-size="11.8" fill="#1a1a1a" stroke="#1a1a1a" stroke-width="0.3" text-anchor="start">12</text>
<text transform="translate(195.6,585.2) scale(0.58,1)" font-family="'Liberation Sans', Arial, sans-serif" font-size="11.8" fill="#1a1a1a" stroke="#1a1a1a" stroke-width="0.3" text-anchor="start">19</text>
<text transform="translate(209.7,585.2) scale(0.58,1)" font-family="'Liberation Sans', Arial, sans-serif" font-size="11.8" fill="#1a1a1a" stroke="#1a1a1a" stroke-width="0.3" text-anchor="start">27</text>
<text transform="translate(222.3,585.2) scale(0.58,1)" font-family="'Liberation Sans', Arial, sans-serif" font-size="11.8" fill="#1a1a1a" stroke="#1a1a1a" stroke-width="0.3" text-anchor="start">2</text>
<text transform="translate(246.6,585.2) scale(0.58,1)" font-family="'Liberation Sans', Arial, sans-serif" font-size="11.8" fill="#1a1a1a" stroke="#1a1a1a" stroke-width="0.3" text-anchor="start">16</text>
<text transform="translate(262,585.2) scale(0.58,1)" font-family="'Liberation Sans', Arial, sans-serif" font-size="11.8" fill="#1a1a1a" stroke="#1a1a1a" stroke-width="0.3" text-anchor="start">23</text>
<text transform="translate(277.4,585.2) scale(0.58,1)" font-family="'Liberation Sans', Arial, sans-serif" font-size="11.8" fill="#1a1a1a" stroke="#1a1a1a" stroke-width="0.3" text-anchor="start">30</text>
<text transform="translate(292.6,585.2) scale(0.58,1)" font-family="'Liberation Sans', Arial, sans-serif" font-size="11.8" fill="#1a1a1a" stroke="#1a1a1a" stroke-width="0.3" text-anchor="start">6</text>
<text transform="translate(306.9,585.2) scale(0.58,1)" font-family="'Liberation Sans', Arial, sans-serif" font-size="11.8" fill="#1a1a1a" stroke="#1a1a1a" stroke-width="0.3" text-anchor="start">13</text>
<text transform="translate(322.3,585.2) scale(0.58,1)" font-family="'Liberation Sans', Arial, sans-serif" font-size="11.8" fill="#1a1a1a" stroke="#1a1a1a" stroke-width="0.3" text-anchor="start">20</text>
<text transform="translate(337.5,585.2) scale(0.58,1)" font-family="'Liberation Sans', Arial, sans-serif" font-size="11.8" fill="#1a1a1a" stroke="#1a1a1a" stroke-width="0.3" text-anchor="start">28</text>
<text transform="translate(349.7,585.2) scale(0.58,1)" font-family="'Liberation Sans', Arial, sans-serif" font-size="11.8" fill="#1a1a1a" stroke="#1a1a1a" stroke-width="0.3" text-anchor="start">6</text>
<text transform="translate(364.5,585.2) scale(0.58,1)" font-family="'Liberation Sans', Arial, sans-serif" font-size="11.8" fill="#1a1a1a" stroke="#1a1a1a" stroke-width="0.3" text-anchor="start">13</text>
<text transform="translate(379.6,585.2) scale(0.58,1)" font-family="'Liberation Sans', Arial, sans-serif" font-size="11.8" fill="#1a1a1a" stroke="#1a1a1a" stroke-width="0.3" text-anchor="start">20</text>
<text transform="translate(395.1,585.2) scale(0.58,1)" font-family="'Liberation Sans', Arial, sans-serif" font-size="11.8" fill="#1a1a1a" stroke="#1a1a1a" stroke-width="0.3" text-anchor="start">27</text>
<text transform="translate(410.4,585.2) scale(0.58,1)" font-family="'Liberation Sans', Arial, sans-serif" font-size="11.8" fill="#1a1a1a" stroke="#1a1a1a" stroke-width="0.3" text-anchor="start">3</text>
<text transform="translate(425.7,585.2) scale(0.58,1)" font-family="'Liberation Sans', Arial, sans-serif" font-size="11.8" fill="#1a1a1a" stroke="#1a1a1a" stroke-width="0.3" text-anchor="start">10</text>
<text transform="translate(437.9,585.2) scale(0.58,1)" font-family="'Liberation Sans', Arial, sans-serif" font-size="11.8" fill="#1a1a1a" stroke="#1a1a1a" stroke-width="0.3" text-anchor="start">18</text>
<text transform="translate(449.3,585.2) scale(0.58,1)" font-family="'Liberation Sans', Arial, sans-serif" font-size="11.8" fill="#1a1a1a" stroke="#1a1a1a" stroke-width="0.3" text-anchor="start">24</text>
<text transform="translate(464.9,585.2) scale(0.58,1)" font-family="'Liberation Sans', Arial, sans-serif" font-size="11.8" fill="#1a1a1a" stroke="#1a1a1a" stroke-width="0.3" text-anchor="start">2</text>
<text transform="translate(476.5,585.2) scale(0.58,1)" font-family="'Liberation Sans', Arial, sans-serif" font-size="11.8" fill="#1a1a1a" stroke="#1a1a1a" stroke-width="0.3" text-anchor="start">8</text>
<text transform="translate(491.8,585.2) scale(0.58,1)" font-family="'Liberation Sans', Arial, sans-serif" font-size="11.8" fill="#1a1a1a" stroke="#1a1a1a" stroke-width="0.3" text-anchor="start">15</text>
<text transform="translate(507.4,585.2) scale(0.58,1)" font-family="'Liberation Sans', Arial, sans-serif" font-size="11.8" fill="#1a1a1a" stroke="#1a1a1a" stroke-width="0.3" text-anchor="start">22</text>
<text transform="translate(522.5,585.2) scale(0.58,1)" font-family="'Liberation Sans', Arial, sans-serif" font-size="11.8" fill="#1a1a1a" stroke="#1a1a1a" stroke-width="0.3" text-anchor="start">29</text>
<text transform="translate(538,585.2) scale(0.58,1)" font-family="'Liberation Sans', Arial, sans-serif" font-size="11.8" fill="#1a1a1a" stroke="#1a1a1a" stroke-width="0.3" text-anchor="start">6</text>
<text transform="translate(549.5,585.2) scale(0.58,1)" font-family="'Liberation Sans', Arial, sans-serif" font-size="11.8" fill="#1a1a1a" stroke="#1a1a1a" stroke-width="0.3" text-anchor="start">12</text>
<text transform="translate(564.5,585.2) scale(0.58,1)" font-family="'Liberation Sans', Arial, sans-serif" font-size="11.8" fill="#1a1a1a" stroke="#1a1a1a" stroke-width="0.3" text-anchor="start">19</text>
<text transform="translate(579.6,585.2) scale(0.58,1)" font-family="'Liberation Sans', Arial, sans-serif" font-size="11.8" fill="#1a1a1a" stroke="#1a1a1a" stroke-width="0.3" text-anchor="start">26</text>
<text transform="translate(594.7,585.2) scale(0.58,1)" font-family="'Liberation Sans', Arial, sans-serif" font-size="11.8" fill="#1a1a1a" stroke="#1a1a1a" stroke-width="0.3" text-anchor="start">3</text>
<text transform="translate(610,585.2) scale(0.58,1)" font-family="'Liberation Sans', Arial, sans-serif" font-size="11.8" fill="#1a1a1a" stroke="#1a1a1a" stroke-width="0.3" text-anchor="start">10</text>
<text transform="translate(625.3,585.2) scale(0.58,1)" font-family="'Liberation Sans', Arial, sans-serif" font-size="11.8" fill="#1a1a1a" stroke="#1a1a1a" stroke-width="0.3" text-anchor="start">17</text>
<text transform="translate(640.4,585.2) scale(0.58,1)" font-family="'Liberation Sans', Arial, sans-serif" font-size="11.8" fill="#1a1a1a" stroke="#1a1a1a" stroke-width="0.3" text-anchor="start">24</text>
<text transform="translate(655.9,585.2) scale(0.58,1)" font-family="'Liberation Sans', Arial, sans-serif" font-size="11.8" fill="#1a1a1a" stroke="#1a1a1a" stroke-width="0.3" text-anchor="start">31</text>
<text transform="translate(670.5,585.2) scale(0.58,1)" font-family="'Liberation Sans', Arial, sans-serif" font-size="11.8" fill="#1a1a1a" stroke="#1a1a1a" stroke-width="0.3" text-anchor="start">7</text>
<text transform="translate(685.8,585.2) scale(0.58,1)" font-family="'Liberation Sans', Arial, sans-serif" font-size="11.8" fill="#1a1a1a" stroke="#1a1a1a" stroke-width="0.3" text-anchor="start">14</text>
<text transform="translate(698.4,585.2) scale(0.58,1)" font-family="'Liberation Sans', Arial, sans-serif" font-size="11.8" fill="#1a1a1a" stroke="#1a1a1a" stroke-width="0.3" text-anchor="start">21</text>
<text transform="translate(713.5,585.2) scale(0.58,1)" font-family="'Liberation Sans', Arial, sans-serif" font-size="11.8" fill="#1a1a1a" stroke="#1a1a1a" stroke-width="0.3" text-anchor="start">28</text>
<text transform="translate(728,585.2) scale(0.58,1)" font-family="'Liberation Sans', Arial, sans-serif" font-size="11.8" fill="#1a1a1a" stroke="#1a1a1a" stroke-width="0.3" text-anchor="start">4</text>
<text transform="translate(743.4,585.2) scale(0.58,1)" font-family="'Liberation Sans', Arial, sans-serif" font-size="11.8" fill="#1a1a1a" stroke="#1a1a1a" stroke-width="0.3" text-anchor="start">11</text>
<text transform="translate(758.4,585.2) scale(0.58,1)" font-family="'Liberation Sans', Arial, sans-serif" font-size="11.8" fill="#1a1a1a" stroke="#1a1a1a" stroke-width="0.3" text-anchor="start">18</text>
<text transform="translate(773.5,585.2) scale(0.58,1)" font-family="'Liberation Sans', Arial, sans-serif" font-size="11.8" fill="#1a1a1a" stroke="#1a1a1a" stroke-width="0.3" text-anchor="start">25</text>
<text transform="translate(788.7,585.2) scale(0.58,1)" font-family="'Liberation Sans', Arial, sans-serif" font-size="11.8" fill="#1a1a1a" stroke="#1a1a1a" stroke-width="0.3" text-anchor="start">2</text>
<text transform="translate(31.8,599.4) scale(0.58,1)" font-family="'Liberation Sans', Arial, sans-serif" font-size="11.8" fill="#1a1a1a" stroke="#1a1a1a" stroke-width="0.3" text-anchor="start">October</text>
<text transform="translate(92.1,599.4) scale(0.58,1)" font-family="'Liberation Sans', Arial, sans-serif" font-size="11.8" fill="#1a1a1a" stroke="#1a1a1a" stroke-width="0.3" text-anchor="start">November</text>
<text transform="translate(158.9,599.4) scale(0.58,1)" font-family="'Liberation Sans', Arial, sans-serif" font-size="11.8" fill="#1a1a1a" stroke="#1a1a1a" stroke-width="0.3" text-anchor="start">December</text>
<text transform="translate(222.6,599.4) scale(0.58,1)" font-family="'Liberation Sans', Arial, sans-serif" font-size="11.8" fill="#1a1a1a" stroke="#1a1a1a" stroke-width="0.3" text-anchor="start">2017</text>
<text transform="translate(282.9,599.4) scale(0.58,1)" font-family="'Liberation Sans', Arial, sans-serif" font-size="11.8" fill="#1a1a1a" stroke="#1a1a1a" stroke-width="0.3" text-anchor="start">February</text>
<text transform="translate(340.7,599.4) scale(0.58,1)" font-family="'Liberation Sans', Arial, sans-serif" font-size="11.8" fill="#1a1a1a" stroke="#1a1a1a" stroke-width="0.3" text-anchor="start">March</text>
<text transform="translate(410.7,599.4) scale(0.58,1)" font-family="'Liberation Sans', Arial, sans-serif" font-size="11.8" fill="#1a1a1a" stroke="#1a1a1a" stroke-width="0.3" text-anchor="start">April</text>
<text transform="translate(465.2,599.4) scale(0.58,1)" font-family="'Liberation Sans', Arial, sans-serif" font-size="11.8" fill="#1a1a1a" stroke="#1a1a1a" stroke-width="0.3" text-anchor="start">May</text>
<text transform="translate(531.8,599.4) scale(0.58,1)" font-family="'Liberation Sans', Arial, sans-serif" font-size="11.8" fill="#1a1a1a" stroke="#1a1a1a" stroke-width="0.3" text-anchor="start">June</text>
<text transform="translate(595,599.4) scale(0.58,1)" font-family="'Liberation Sans', Arial, sans-serif" font-size="11.8" fill="#1a1a1a" stroke="#1a1a1a" stroke-width="0.3" text-anchor="start">July</text>
<text transform="translate(658.8,599.4) scale(0.58,1)" font-family="'Liberation Sans', Arial, sans-serif" font-size="11.8" fill="#1a1a1a" stroke="#1a1a1a" stroke-width="0.3" text-anchor="start">August</text>
<text transform="translate(725.8,599.4) scale(0.58,1)" font-family="'Liberation Sans', Arial, sans-serif" font-size="11.8" fill="#1a1a1a" stroke="#1a1a1a" stroke-width="0.3" text-anchor="start">September</text>
<text transform="translate(789,599.4) scale(0.58,1)" font-family="'Liberation Sans', Arial, sans-serif" font-size="11.8" fill="#1a1a1a" stroke="#1a1a1a" stroke-width="0.3" text-anchor="start">October</text>
<path d="M30.5 573.9V600.5 M90.8 573.9V600.5 M157.6 573.9V600.5 M221.3 573.9V600.5 M281.6 573.9V600.5 M339.4 573.9V600.5 M409.4 573.9V600.5 M463.9 573.9V600.5 M530.5 573.9V600.5 M593.7 573.9V600.5 M657.5 573.9V600.5 M724.5 573.9V600.5 M787.7 573.9V600.5" stroke="#555" stroke-width="1" fill="none"/>
</g>
</svg>
</body></html>
